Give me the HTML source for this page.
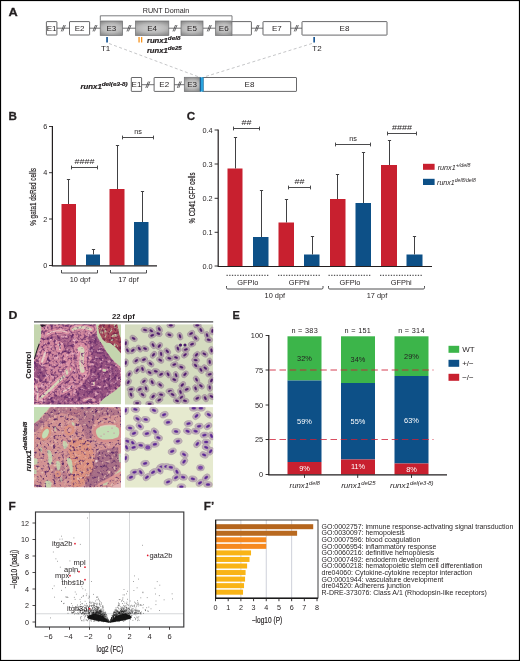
<!DOCTYPE html>
<html><head><meta charset="utf-8"><title>Figure</title>
<style>
html,body{margin:0;padding:0;background:#fff;}
svg{display:block}
text{font-family:"Liberation Sans",sans-serif;fill:#231f20}
.b{font-weight:bold}
.i{font-style:italic}
.bi{font-weight:bold;font-style:italic}
</style></head><body>
<svg width="520" height="661" viewBox="0 0 520 661">
<defs>
<radialGradient id="gbox" cx="50%" cy="50%" r="75%" gradientTransform="translate(0.5 0.5) scale(1 0.75) translate(-0.5 -0.5)">
<stop offset="0" stop-color="#d2d2d2"/><stop offset="0.55" stop-color="#b9b9b9"/><stop offset="1" stop-color="#8a8a8a"/>
</radialGradient>
</defs>
<rect x="0" y="0" width="520" height="661" fill="#fff"/>

<text transform="translate(8.5 16) scale(1.16 1)" font-size="11" class="b" stroke="#231f20" stroke-width="0.25">A</text>
<text transform="translate(8.5 120) scale(1.06 1)" font-size="11" class="b" stroke="#231f20" stroke-width="0.25">B</text>
<text transform="translate(186.8 120) scale(1.06 1)" font-size="11" class="b" stroke="#231f20" stroke-width="0.25">C</text>
<text transform="translate(8.5 319) scale(1.12 1)" font-size="11" class="b" stroke="#231f20" stroke-width="0.25">D</text>
<text transform="translate(232.5 319.4) scale(1.0 1)" font-size="11" class="b" stroke="#231f20" stroke-width="0.25">E</text>
<text transform="translate(8.5 510) scale(1.08 1)" font-size="11" class="b" stroke="#231f20" stroke-width="0.25">F</text>
<text transform="translate(203.8 510) scale(1.06 1)" font-size="11" class="b" stroke="#231f20" stroke-width="0.25">F’</text>
<line x1="57" y1="28.2" x2="302" y2="28.2" stroke="#4d4d4f" stroke-width="0.8"/>
<line x1="61.25" y1="31.4" x2="63.849999999999994" y2="25.0" stroke="#4d4d4f" stroke-width="0.85"/>
<line x1="62.75" y1="31.4" x2="65.35" y2="25.0" stroke="#4d4d4f" stroke-width="0.85"/>
<line x1="92.95" y1="31.4" x2="95.55" y2="25.0" stroke="#4d4d4f" stroke-width="0.85"/>
<line x1="94.45" y1="31.4" x2="97.05" y2="25.0" stroke="#4d4d4f" stroke-width="0.85"/>
<line x1="126.95" y1="31.4" x2="129.55" y2="25.0" stroke="#4d4d4f" stroke-width="0.85"/>
<line x1="128.45" y1="31.4" x2="131.05" y2="25.0" stroke="#4d4d4f" stroke-width="0.85"/>
<line x1="172.95" y1="31.4" x2="175.55" y2="25.0" stroke="#4d4d4f" stroke-width="0.85"/>
<line x1="174.45" y1="31.4" x2="177.05" y2="25.0" stroke="#4d4d4f" stroke-width="0.85"/>
<line x1="207.25" y1="31.4" x2="209.85000000000002" y2="25.0" stroke="#4d4d4f" stroke-width="0.85"/>
<line x1="208.75" y1="31.4" x2="211.35000000000002" y2="25.0" stroke="#4d4d4f" stroke-width="0.85"/>
<line x1="254.95" y1="31.4" x2="257.55" y2="25.0" stroke="#4d4d4f" stroke-width="0.85"/>
<line x1="256.45" y1="31.4" x2="259.05" y2="25.0" stroke="#4d4d4f" stroke-width="0.85"/>
<line x1="294.25" y1="31.4" x2="296.85" y2="25.0" stroke="#4d4d4f" stroke-width="0.85"/>
<line x1="295.75" y1="31.4" x2="298.35" y2="25.0" stroke="#4d4d4f" stroke-width="0.85"/>
<rect x="46.4" y="21.6" width="10.5" height="13.399999999999999" rx="0.5" fill="#fff" stroke="#4d4d4f" stroke-width="0.85"/>
<text x="51.65" y="31.2" font-size="8" text-anchor="middle">E1</text>
<rect x="69.5" y="21.6" width="20.099999999999994" height="13.399999999999999" rx="0.5" fill="#fff" stroke="#4d4d4f" stroke-width="0.85"/>
<text x="79.55" y="31.2" font-size="8" text-anchor="middle">E2</text>
<rect x="100.2" y="21" width="22.39999999999999" height="14.399999999999999" fill="url(#gbox)" stroke="#6d6e70" stroke-width="0.7"/>
<text x="111.4" y="31.099999999999998" font-size="8" text-anchor="middle">E3</text>
<rect x="135.5" y="21" width="33.30000000000001" height="14.399999999999999" fill="url(#gbox)" stroke="#6d6e70" stroke-width="0.7"/>
<text x="152.15" y="31.099999999999998" font-size="8" text-anchor="middle">E4</text>
<rect x="181" y="21" width="22" height="14.399999999999999" fill="url(#gbox)" stroke="#6d6e70" stroke-width="0.7"/>
<text x="192.0" y="31.099999999999998" font-size="8" text-anchor="middle">E5</text>
<rect x="231" y="21.6" width="20.400000000000006" height="13.399999999999999" rx="0.5" fill="#fff" stroke="#4d4d4f" stroke-width="0.85"/>
<rect x="215.5" y="21" width="16.5" height="14.399999999999999" fill="url(#gbox)" stroke="#6d6e70" stroke-width="0.7"/>
<text x="223.75" y="31.099999999999998" font-size="8" text-anchor="middle">E6</text>
<rect x="263" y="21.6" width="27.69999999999999" height="13.399999999999999" rx="0.5" fill="#fff" stroke="#4d4d4f" stroke-width="0.85"/>
<text x="276.85" y="31.2" font-size="8" text-anchor="middle">E7</text>
<rect x="302" y="21.6" width="85" height="13.5" rx="0.5" fill="#fff" stroke="#4d4d4f" stroke-width="0.85"/>
<text x="344.5" y="31.25" font-size="8" text-anchor="middle">E8</text>
<path d="M100.3 20.5V15.8H232V20.5" fill="none" stroke="#6d6e70" stroke-width="0.9"/>
<text x="166" y="12.6" font-size="7.2" text-anchor="middle">RUNT Domain</text>
<rect x="106.2" y="37" width="1.7" height="5.5" fill="#1a5896"/>
<rect x="313.3" y="37" width="1.7" height="5.5" fill="#1a5896"/>
<rect x="138.4" y="37" width="1.3" height="5.5" fill="#f7931e"/>
<rect x="141" y="37" width="1.3" height="5.5" fill="#f7931e"/>
<text x="105.6" y="50.8" font-size="8" text-anchor="middle">T1</text>
<text x="317" y="50.8" font-size="8" text-anchor="middle">T2</text>
<text x="146.9" y="43.3" font-size="6.9" class="bi" textLength="33.5" lengthAdjust="spacingAndGlyphs" stroke="#231f20" stroke-width="0.2">runx1<tspan dy="-3.1" font-size="5.6">del8</tspan></text>
<text x="146.9" y="52.8" font-size="6.9" class="bi" textLength="34.9" lengthAdjust="spacingAndGlyphs" stroke="#231f20" stroke-width="0.2">runx1<tspan dy="-3.1" font-size="5.6">de25</tspan></text>
<line x1="109" y1="43.5" x2="199" y2="77" stroke="#b6b8ba" stroke-width="0.8" stroke-dasharray="3 2.4"/>
<line x1="312" y1="43.5" x2="204" y2="77" stroke="#b6b8ba" stroke-width="0.8" stroke-dasharray="3 2.4"/>
<line x1="141.5" y1="84.7" x2="185" y2="84.7" stroke="#4d4d4f" stroke-width="0.8"/>
<line x1="145.75" y1="87.9" x2="148.35000000000002" y2="81.5" stroke="#4d4d4f" stroke-width="0.85"/>
<line x1="147.25" y1="87.9" x2="149.85000000000002" y2="81.5" stroke="#4d4d4f" stroke-width="0.85"/>
<line x1="177.25" y1="87.9" x2="179.85000000000002" y2="81.5" stroke="#4d4d4f" stroke-width="0.85"/>
<line x1="178.75" y1="87.9" x2="181.35000000000002" y2="81.5" stroke="#4d4d4f" stroke-width="0.85"/>
<rect x="131.3" y="77.5" width="10.299999999999983" height="13.900000000000006" rx="0.5" fill="#fff" stroke="#4d4d4f" stroke-width="0.85"/>
<text x="136.45" y="87.35000000000001" font-size="8" text-anchor="middle">E1</text>
<rect x="154.1" y="77.5" width="20.200000000000017" height="13.900000000000006" rx="0.5" fill="#fff" stroke="#4d4d4f" stroke-width="0.85"/>
<text x="164.2" y="87.35000000000001" font-size="8" text-anchor="middle">E2</text>
<rect x="202" y="77.5" width="94.5" height="13.900000000000006" rx="0.5" fill="#fff" stroke="#4d4d4f" stroke-width="0.85"/>
<text x="249.5" y="87.35000000000001" font-size="8" text-anchor="middle">E8</text>
<rect x="184.3" y="77.3" width="15.699999999999989" height="14.299999999999997" fill="url(#gbox)" stroke="#6d6e70" stroke-width="0.7"/>
<text x="192.15" y="87.35" font-size="8" text-anchor="middle">E3</text>
<rect x="199.9" y="77.3" width="3.7" height="14.3" fill="#29a3de"/>
<rect x="199.9" y="77.3" width="1.0" height="14.3" fill="#1b5a92"/>
<rect x="203.2" y="77.3" width="0.5" height="14.3" fill="#3a6a8c"/>
<text x="80.6" y="89.3" font-size="6.9" class="bi" textLength="47.1" lengthAdjust="spacingAndGlyphs" stroke="#231f20" stroke-width="0.2">runx1<tspan dy="-3.1" font-size="5.6">del(e3-8)</tspan></text>
<rect x="61.5" y="204" width="14.5" height="61.5" fill="#c8202f"/>
<path d="M68.5 204V179.5M66.9 179.5H70.1" fill="none" stroke="#414143" stroke-width="1"/>
<rect x="86" y="254.5" width="14" height="11.0" fill="#0d5087"/>
<path d="M93.5 254.5V249.5M91.9 249.5H95.1" fill="none" stroke="#414143" stroke-width="1"/>
<rect x="109.5" y="189" width="15.0" height="76.5" fill="#c8202f"/>
<path d="M117.5 189V145.5M115.9 145.5H119.1" fill="none" stroke="#414143" stroke-width="1"/>
<rect x="134" y="222" width="14.5" height="43.5" fill="#0d5087"/>
<path d="M142.5 222V191.5M140.9 191.5H144.1" fill="none" stroke="#414143" stroke-width="1"/>
<path d="M52.4 126.1V265.9H157" fill="none" stroke="#231f20" stroke-width="1.2"/>
<line x1="49" y1="126.5" x2="52.5" y2="126.5" stroke="#231f20" stroke-width="0.9"/>
<text x="47.3" y="129.1" font-size="7.3" text-anchor="end">6</text>
<line x1="49" y1="172.7" x2="52.5" y2="172.7" stroke="#231f20" stroke-width="0.9"/>
<text x="47.3" y="175.29999999999998" font-size="7.3" text-anchor="end">4</text>
<line x1="49" y1="219" x2="52.5" y2="219" stroke="#231f20" stroke-width="0.9"/>
<text x="47.3" y="221.6" font-size="7.3" text-anchor="end">2</text>
<line x1="49" y1="265.5" x2="52.5" y2="265.5" stroke="#231f20" stroke-width="0.9"/>
<text x="47.3" y="268.1" font-size="7.3" text-anchor="end">0</text>
<path d="M71.5 167.5H97.5M71.5 165.6V169.4M97.5 165.6V169.4" fill="none" stroke="#414143" stroke-width="0.95"/>
<text x="74.5" y="163.8" font-size="6.6" textLength="20" lengthAdjust="spacingAndGlyphs">####</text>
<path d="M122.5 137.5H153.5M122.5 135.6V139.4M153.5 135.6V139.4" fill="none" stroke="#414143" stroke-width="0.95"/>
<text x="138.0" y="134.2" font-size="7.3" text-anchor="middle">ns</text>
<text transform="translate(35.6 196.9) rotate(-90)" x="-28.9" y="0" font-size="8.8" textLength="57.8" lengthAdjust="spacingAndGlyphs" stroke="#231f20" stroke-width="0.18">% gata1 dsRed cells</text>
<path d="M61.5 270V273H97.5V270" fill="none" stroke="#3a3a3c" stroke-width="0.9"/>
<path d="M110.5 270V273H146.5V270" fill="none" stroke="#3a3a3c" stroke-width="0.9"/>
<text x="80" y="281.6" font-size="7.4" text-anchor="middle">10 dpf</text>
<text x="128.5" y="281.6" font-size="7.4" text-anchor="middle">17 dpf</text>
<rect x="227.5" y="168.5" width="15.0" height="97.5" fill="#c8202f"/>
<path d="M235.5 168.5V137.5M233.9 137.5H237.1" fill="none" stroke="#414143" stroke-width="1"/>
<rect x="253" y="237" width="15.5" height="29" fill="#0d5087"/>
<path d="M261.5 237V190.5M259.9 190.5H263.1" fill="none" stroke="#414143" stroke-width="1"/>
<rect x="278.5" y="222.5" width="15.5" height="43.5" fill="#c8202f"/>
<path d="M286.5 222.5V199.5M284.9 199.5H288.1" fill="none" stroke="#414143" stroke-width="1"/>
<rect x="304" y="254.5" width="15.5" height="11.5" fill="#0d5087"/>
<path d="M312.5 254.5V236.5M310.9 236.5H314.1" fill="none" stroke="#414143" stroke-width="1"/>
<rect x="330" y="199" width="15.5" height="67" fill="#c8202f"/>
<path d="M337.5 199V174.5M335.9 174.5H339.1" fill="none" stroke="#414143" stroke-width="1"/>
<rect x="355.5" y="203" width="15.5" height="63" fill="#0d5087"/>
<path d="M363.5 203V152.5M361.9 152.5H365.1" fill="none" stroke="#414143" stroke-width="1"/>
<rect x="381" y="165" width="16" height="101" fill="#c8202f"/>
<path d="M389.5 165V140.5M387.9 140.5H391.1" fill="none" stroke="#414143" stroke-width="1"/>
<rect x="406.5" y="254.5" width="16.0" height="11.5" fill="#0d5087"/>
<path d="M414.5 254.5V236.5M412.9 236.5H416.1" fill="none" stroke="#414143" stroke-width="1"/>
<path d="M218.2 129.6V266.5H432" fill="none" stroke="#231f20" stroke-width="1.2"/>
<line x1="214.6" y1="130" x2="218" y2="130" stroke="#231f20" stroke-width="0.9"/>
<text x="212.6" y="132.6" font-size="7.3" text-anchor="end">0.4</text>
<line x1="214.6" y1="164" x2="218" y2="164" stroke="#231f20" stroke-width="0.9"/>
<text x="212.6" y="166.6" font-size="7.3" text-anchor="end">0.3</text>
<line x1="214.6" y1="198.3" x2="218" y2="198.3" stroke="#231f20" stroke-width="0.9"/>
<text x="212.6" y="200.9" font-size="7.3" text-anchor="end">0.2</text>
<line x1="214.6" y1="232.3" x2="218" y2="232.3" stroke="#231f20" stroke-width="0.9"/>
<text x="212.6" y="234.9" font-size="7.3" text-anchor="end">0.1</text>
<line x1="214.6" y1="266" x2="218" y2="266" stroke="#231f20" stroke-width="0.9"/>
<text x="212.6" y="268.6" font-size="7.3" text-anchor="end">0.0</text>
<path d="M233.5 128.5H259.5M233.5 126.6V130.4M259.5 126.6V130.4" fill="none" stroke="#414143" stroke-width="0.95"/>
<text x="241.5" y="124.8" font-size="6.6" textLength="10" lengthAdjust="spacingAndGlyphs">##</text>
<path d="M288.5 187.5H310.5M288.5 185.6V189.4M310.5 185.6V189.4" fill="none" stroke="#414143" stroke-width="0.95"/>
<text x="294.5" y="183.8" font-size="6.6" textLength="10" lengthAdjust="spacingAndGlyphs">##</text>
<path d="M335.5 144.5H370.5M335.5 142.6V146.4M370.5 142.6V146.4" fill="none" stroke="#414143" stroke-width="0.95"/>
<text x="353.0" y="141.2" font-size="7.3" text-anchor="middle">ns</text>
<path d="M387.5 133.5H416.5M387.5 131.6V135.4M416.5 131.6V135.4" fill="none" stroke="#414143" stroke-width="0.95"/>
<text x="392.0" y="129.8" font-size="6.6" textLength="20" lengthAdjust="spacingAndGlyphs">####</text>
<text transform="translate(194.9 198) rotate(-90)" x="-25.5" y="0" font-size="8.8" textLength="51" lengthAdjust="spacingAndGlyphs" stroke="#231f20" stroke-width="0.18">% CD41 GFP cells</text>
<line x1="226.5" y1="275.3" x2="269" y2="275.3" stroke="#2e2e30" stroke-width="1" stroke-dasharray="1.3 1.4"/>
<line x1="278" y1="275.3" x2="320" y2="275.3" stroke="#2e2e30" stroke-width="1" stroke-dasharray="1.3 1.4"/>
<line x1="328.5" y1="275.3" x2="371.5" y2="275.3" stroke="#2e2e30" stroke-width="1" stroke-dasharray="1.3 1.4"/>
<line x1="380" y1="275.3" x2="422.5" y2="275.3" stroke="#2e2e30" stroke-width="1" stroke-dasharray="1.3 1.4"/>
<text x="247.8" y="284.7" font-size="7.4" text-anchor="middle">GFPlo</text>
<text x="299.3" y="284.7" font-size="7.4" text-anchor="middle">GFPhi</text>
<text x="350" y="284.7" font-size="7.4" text-anchor="middle">GFPlo</text>
<text x="401.3" y="284.7" font-size="7.4" text-anchor="middle">GFPhi</text>
<path d="M226.5 286V287.8Q226.5 289 227.7 289H321.8Q323 289 323 287.8V286" fill="none" stroke="#3a3a3c" stroke-width="0.9"/>
<path d="M328.5 286V287.8Q328.5 289 329.7 289H423.3Q424.5 289 424.5 287.8V286" fill="none" stroke="#3a3a3c" stroke-width="0.9"/>
<text x="274.8" y="298" font-size="7.4" text-anchor="middle">10 dpf</text>
<text x="377" y="298" font-size="7.4" text-anchor="middle">17 dpf</text>
<rect x="423" y="163.8" width="11.6" height="6" fill="#c8202f"/>
<rect x="423" y="178.8" width="11.6" height="6.2" fill="#0d5087"/>
<text x="437.7" y="169.7" font-size="7.2" class="i" textLength="32.7" lengthAdjust="spacingAndGlyphs">runx1<tspan dy="-3.0" font-size="5.3">+/del8</tspan></text>
<text x="437.1" y="185" font-size="7.2" class="i" textLength="38.7" lengthAdjust="spacingAndGlyphs">runx1<tspan dy="-3.0" font-size="5.3">del8/del8</tspan></text>
<text x="123.4" y="318.8" font-size="7.7" class="b" text-anchor="middle">22 dpf</text>
<line x1="34" y1="321.9" x2="213.2" y2="321.9" stroke="#4d4d4f" stroke-width="1.2"/>
<text transform="translate(30.9 365.2) rotate(-90)" x="-13.5" y="0" font-size="7.9" textLength="27" lengthAdjust="spacingAndGlyphs" class="b" stroke="#231f20" stroke-width="0.2">Control</text>
<text x="-24.85" y="0" font-size="7.2" class="bi" textLength="49.7" lengthAdjust="spacingAndGlyphs" transform="translate(30.8 446.6) rotate(-90)" stroke="#231f20" stroke-width="0.2">runx1<tspan dy="-3.7" font-size="6.1">del8/del8</tspan></text>
<defs>
<filter id="blur04" x="-5%" y="-5%" width="110%" height="110%"><feGaussianBlur stdDeviation="0.7"/></filter>
<filter id="blur03" x="-5%" y="-5%" width="110%" height="110%"><feGaussianBlur stdDeviation="0.35"/></filter>
<filter id="spkD1" x="0" y="0" width="100%" height="100%" color-interpolation-filters="sRGB"><feTurbulence type="fractalNoise" baseFrequency="0.3" numOctaves="2" seed="5" result="n"/><feColorMatrix in="n" type="matrix" values="0 0 0 0 0.392  0 0 0 0 0.165  0 0 0 0 0.408  3.5 0 0 0 -1.7" result="c"/><feComposite in="c" in2="SourceGraphic" operator="in"/></filter>
<filter id="spkD1b" x="0" y="0" width="100%" height="100%" color-interpolation-filters="sRGB"><feTurbulence type="fractalNoise" baseFrequency="0.36" numOctaves="2" seed="15" result="n"/><feColorMatrix in="n" type="matrix" values="0 0 0 0 0.392  0 0 0 0 0.165  0 0 0 0 0.408  3.5 0 0 0 -1.92" result="c"/><feComposite in="c" in2="SourceGraphic" operator="in"/></filter>
<filter id="spkBG1" x="0" y="0" width="100%" height="100%" color-interpolation-filters="sRGB"><feTurbulence type="fractalNoise" baseFrequency="0.3" numOctaves="2" seed="9" result="n"/><feColorMatrix in="n" type="matrix" values="0 0 0 0 0.776  0 0 0 0 0.839  0 0 0 0 0.690  4.5 0 0 0 -2.5" result="c"/><feComposite in="c" in2="SourceGraphic" operator="in"/></filter>
<filter id="spkL1" x="0" y="0" width="100%" height="100%" color-interpolation-filters="sRGB"><feTurbulence type="fractalNoise" baseFrequency="0.28" numOctaves="2" seed="11" result="n"/><feColorMatrix in="n" type="matrix" values="0 0 0 0 0.929  0 0 0 0 0.714  0 0 0 0 0.769  4.0 0 0 0 -2.3" result="c"/><feComposite in="c" in2="SourceGraphic" operator="in"/></filter>
<filter id="spkB1" x="0" y="0" width="100%" height="100%" color-interpolation-filters="sRGB"><feTurbulence type="fractalNoise" baseFrequency="0.35" numOctaves="2" seed="2" result="n"/><feColorMatrix in="n" type="matrix" values="0 0 0 0 0.478  0 0 0 0 0.165  0 0 0 0 0.306  4.5 0 0 0 -2.1" result="c"/><feComposite in="c" in2="SourceGraphic" operator="in"/></filter>
<filter id="spkD3" x="0" y="0" width="100%" height="100%" color-interpolation-filters="sRGB"><feTurbulence type="fractalNoise" baseFrequency="0.36" numOctaves="2" seed="8" result="n"/><feColorMatrix in="n" type="matrix" values="0 0 0 0 0.369  0 0 0 0 0.180  0 0 0 0 0.408  4.0 0 0 0 -2.12" result="c"/><feComposite in="c" in2="SourceGraphic" operator="in"/></filter>
<filter id="spkL3" x="0" y="0" width="100%" height="100%" color-interpolation-filters="sRGB"><feTurbulence type="fractalNoise" baseFrequency="0.3" numOctaves="2" seed="21" result="n"/><feColorMatrix in="n" type="matrix" values="0 0 0 0 0.902  0 0 0 0 0.745  0 0 0 0 0.690  4.0 0 0 0 -2.35" result="c"/><feComposite in="c" in2="SourceGraphic" operator="in"/></filter>
<filter id="spkG3" x="0" y="0" width="100%" height="100%" color-interpolation-filters="sRGB"><feTurbulence type="fractalNoise" baseFrequency="0.18" numOctaves="2" seed="31" result="n"/><feColorMatrix in="n" type="matrix" values="0 0 0 0 0.796  0 0 0 0 0.878  0 0 0 0 0.714  6.0 0 0 0 -3.5" result="c"/><feComposite in="c" in2="SourceGraphic" operator="in"/></filter>
</defs>
<clipPath id="c1"><rect x="0" y="0" width="87" height="80.3"/></clipPath>
<g transform="translate(34 324.2)" clip-path="url(#c1)">
<rect width="87" height="80.3" fill="#c4d5ae"/>
<g filter="url(#blur04)">
<path d="M6.6 0.0 L62.0 0.0 L63.5 14.0 L69.0 21.0 L72.0 27.0 L76.6 33.2 L81.0 38.0 L86.2 42.4 L88.0 51.0 L86.2 62.0 L79.0 68.0 L71.0 73.4 L66.8 77.0 L65.0 81.0 L0.0 81.0 L0.0 35.4 L1.8 31.0 L3.5 26.5 L5.3 19.5 L7.0 13.3 L7.5 5.3Z" fill="#d0879d"/>
<path d="M54 12 L62 10 L70 24 L80 38 L86 46 L86 60 L76 68 L66 78 L46 80 L40 70 L50 58 L56 50 L58 34 Z" fill="#6e2e6c" opacity="0.55"/>
<path d="M0 38 L10 40 L13 50 L8 57 L0 56 Z" fill="#6e2e6c" opacity="0.55"/>
<path d="M12 74 L30 70 L42 72 L44 81 L10 81 Z" fill="#6e2e6c" opacity="0.4"/>
<path d="M14 12 L40 10 L40 20 L34 30 L30 22 L20 14 Z" fill="#6e2e6c" opacity="0.3"/>
<path d="M6.6 0.0 L62.0 0.0 L63.5 14.0 L69.0 21.0 L72.0 27.0 L76.6 33.2 L81.0 38.0 L86.2 42.4 L88.0 51.0 L86.2 62.0 L79.0 68.0 L71.0 73.4 L66.8 77.0 L65.0 81.0 L0.0 81.0 L0.0 35.4 L1.8 31.0 L3.5 26.5 L5.3 19.5 L7.0 13.3 L7.5 5.3Z" fill="#000" filter="url(#spkD1)"/>
<path d="M13 10 Q22 4 33 8" fill="none" stroke="#6e366c" stroke-width="6.8" stroke-linecap="round" stroke-linejoin="round" opacity="0.45" stroke-dasharray="1.2 1.3"/>
<path d="M13 10 Q22 4 33 8" fill="none" stroke="#de93a4" stroke-width="5" stroke-linecap="round" stroke-linejoin="round" opacity="0.92"/>
<path d="M13 10 Q22 4 33 8" fill="none" stroke="#e6d0c8" stroke-width="1.0" stroke-linecap="round" stroke-linejoin="round"/>
<path d="M24.5 20.5 Q27 21 25.8 25" fill="none" stroke="#6e366c" stroke-width="9.3" stroke-linecap="round" stroke-linejoin="round" opacity="0.45" stroke-dasharray="1.2 1.3"/>
<path d="M24.5 20.5 Q27 21 25.8 25" fill="none" stroke="#de93a4" stroke-width="7.5" stroke-linecap="round" stroke-linejoin="round" opacity="0.92"/>
<path d="M24.5 20.5 Q27 21 25.8 25" fill="none" stroke="#e6d0c8" stroke-width="1.8" stroke-linecap="round" stroke-linejoin="round"/>
<path d="M11 28.5 Q10 33 8 37.5" fill="none" stroke="#6e366c" stroke-width="8.8" stroke-linecap="round" stroke-linejoin="round" opacity="0.45" stroke-dasharray="1.2 1.3"/>
<path d="M11 28.5 Q10 33 8 37.5" fill="none" stroke="#de93a4" stroke-width="7" stroke-linecap="round" stroke-linejoin="round" opacity="0.92"/>
<path d="M11 28.5 Q10 33 8 37.5" fill="none" stroke="#e6d0c8" stroke-width="2.0" stroke-linecap="round" stroke-linejoin="round"/>
<path d="M39 5 Q48 1.5 57 5" fill="none" stroke="#6e366c" stroke-width="7.8" stroke-linecap="round" stroke-linejoin="round" opacity="0.45" stroke-dasharray="1.2 1.3"/>
<path d="M39 5 Q48 1.5 57 5" fill="none" stroke="#de93a4" stroke-width="6" stroke-linecap="round" stroke-linejoin="round" opacity="0.92"/>
<path d="M39 5 Q48 1.5 57 5" fill="none" stroke="#d6d6ba" stroke-width="2.8" stroke-linecap="round" stroke-linejoin="round"/>
<path d="M45 24 Q50 21 48.5 32 Q46.5 41 49 47" fill="none" stroke="#6e366c" stroke-width="12.3" stroke-linecap="round" stroke-linejoin="round" opacity="0.45" stroke-dasharray="1.2 1.3"/>
<path d="M45 24 Q50 21 48.5 32 Q46.5 41 49 47" fill="none" stroke="#de93a4" stroke-width="10.5" stroke-linecap="round" stroke-linejoin="round" opacity="0.92"/>
<path d="M45.5 25 Q49.5 22 48 32 Q46.5 41 48.5 46.5" fill="none" stroke="#d6d6ba" stroke-width="4.2" stroke-linecap="round"/>
<path d="M47.5 30 Q47 36 48 42" fill="none" stroke="#e2b8b4" stroke-width="1.8" stroke-linecap="round"/>
<path d="M7 73.4 Q16 66 24 57.5 Q31 52 36 45" fill="none" stroke="#6e366c" stroke-width="8.8" stroke-linecap="round" stroke-linejoin="round" opacity="0.45" stroke-dasharray="1.2 1.3"/>
<path d="M7 73.4 Q16 66 24 57.5 Q31 52 36 45" fill="none" stroke="#de93a4" stroke-width="7" stroke-linecap="round" stroke-linejoin="round" opacity="0.92"/>
<path d="M7 73.4 Q16 66 24 57.5 Q31 52 36 45" fill="none" stroke="#d6d6ba" stroke-width="2.4" stroke-linecap="round" stroke-linejoin="round"/>
<path d="M32.5 46 L33 49.5" fill="none" stroke="#6e366c" stroke-width="7.3" stroke-linecap="round" stroke-linejoin="round" opacity="0.45" stroke-dasharray="1.2 1.3"/>
<path d="M32.5 46 L33 49.5" fill="none" stroke="#de93a4" stroke-width="5.5" stroke-linecap="round" stroke-linejoin="round" opacity="0.92"/>
<path d="M32.5 46 L33 49.5" fill="none" stroke="#d6d6ba" stroke-width="2.4" stroke-linecap="round" stroke-linejoin="round"/>
<path d="M28 68 Q33 66 38 62" fill="none" stroke="#6e366c" stroke-width="6.8" stroke-linecap="round" stroke-linejoin="round" opacity="0.45" stroke-dasharray="1.2 1.3"/>
<path d="M28 68 Q33 66 38 62" fill="none" stroke="#de93a4" stroke-width="5" stroke-linecap="round" stroke-linejoin="round" opacity="0.92"/>
<path d="M28 68 Q33 66 38 62" fill="none" stroke="#e6d0c8" stroke-width="1.2" stroke-linecap="round" stroke-linejoin="round"/>
<path d="M30 30 Q37 36 34 44" fill="none" stroke="#de93a4" stroke-width="4" stroke-linecap="round" stroke-linejoin="round" opacity="0.75"/>
<path d="M2 62 Q5 68 3 76" fill="none" stroke="#de93a4" stroke-width="4" stroke-linecap="round" stroke-linejoin="round" opacity="0.8"/>
<path d="M2 62 Q5 68 3 76" fill="none" stroke="#e6d0c8" stroke-width="1.2" stroke-linecap="round" stroke-linejoin="round"/>
<path d="M69.5 46 L71 46.2" fill="none" stroke="#de93a4" stroke-width="3.2" stroke-linecap="round" stroke-linejoin="round" opacity="0.92"/>
<path d="M69.5 46 L71 46.2" fill="none" stroke="#c4d5ae" stroke-width="2.2" stroke-linecap="round" stroke-linejoin="round"/>
<path d="M59.7 57.5 L59.8 60.5" fill="none" stroke="#de93a4" stroke-width="2.6" stroke-linecap="round" stroke-linejoin="round" opacity="0.92"/>
<path d="M59.7 57.5 L59.8 60.5" fill="none" stroke="#d6d6ba" stroke-width="1.5" stroke-linecap="round" stroke-linejoin="round"/>
<path d="M50 76 Q56 73 60 76" fill="none" stroke="#de93a4" stroke-width="3.6" stroke-linecap="round" stroke-linejoin="round" opacity="0.8"/>
<path d="M50 76 Q56 73 60 76" fill="none" stroke="#e6d0c8" stroke-width="1.0" stroke-linecap="round" stroke-linejoin="round"/>
<path d="M65.6 0.0 L83.3 0.0 L85.5 11.0 L87.0 14.6 L87.0 29.0 L82.0 23.5 L76.6 19.0 L72.2 18.2 L68.7 15.5 L65.0 8.4 L64.2 2.2Z" fill="#a84c5c"/>
<path d="M65.6 0.0 L83.3 0.0 L85.5 11.0 L87.0 14.6 L87.0 29.0 L82.0 23.5 L76.6 19.0 L72.2 18.2 L68.7 15.5 L65.0 8.4 L64.2 2.2Z" fill="#000" filter="url(#spkB1)"/>
<path d="M65.6 0.0 L83.3 0.0 L85.5 11.0 L87.0 14.6 L87.0 29.0 L82.0 23.5 L76.6 19.0 L72.2 18.2 L68.7 15.5 L65.0 8.4 L64.2 2.2Z" fill="#000" filter="url(#spkBG1)"/>
<path d="M6.6 0.0 L62.0 0.0 L63.5 14.0 L69.0 21.0 L72.0 27.0 L76.6 33.2 L81.0 38.0 L86.2 42.4 L88.0 51.0 L86.2 62.0 L79.0 68.0 L71.0 73.4 L66.8 77.0 L65.0 81.0 L0.0 81.0 L0.0 35.4 L1.8 31.0 L3.5 26.5 L5.3 19.5 L7.0 13.3 L7.5 5.3Z" fill="#000" filter="url(#spkL1)"/>
<path d="M6.6 0.0 L62.0 0.0 L63.5 14.0 L69.0 21.0 L72.0 27.0 L76.6 33.2 L81.0 38.0 L86.2 42.4 L88.0 51.0 L86.2 62.0 L79.0 68.0 L71.0 73.4 L66.8 77.0 L65.0 81.0 L0.0 81.0 L0.0 35.4 L1.8 31.0 L3.5 26.5 L5.3 19.5 L7.0 13.3 L7.5 5.3Z" fill="#000" filter="url(#spkD1b)"/>
</g>
<path d="M6 0.4 L13 0.6 L8 3 Z" fill="#2a1a2a"/>
<path d="M5.3 19.5 Q3.5 24 1.8 30 Q0.8 33 0.4 35" fill="none" stroke="#2a1a2a" stroke-width="1.1"/>
</g>
<g filter="url(#blur03)">
<clipPath id="cs2"><rect x="124.8" y="324.2" width="88.4" height="80.5"/></clipPath>
<g clip-path="url(#cs2)">
<rect x="124.8" y="324.2" width="88.4" height="80.5" fill="#d5dcc0"/>
<ellipse cx="133.6" cy="338.4" rx="4.0" ry="2.75" transform="rotate(30 133.6 338.4)" fill="#b3a4a9" stroke="#9f8e9c" stroke-width="0.5"/>
<ellipse cx="133.6" cy="338.4" rx="2.24" ry="1.38" transform="rotate(30 133.6 338.4)" fill="#875a92"/>
<ellipse cx="133.6" cy="338.4" rx="1.80" ry="0.88" transform="rotate(30 133.6 338.4)" fill="#4c1e6a"/>
<ellipse cx="145.1" cy="330.0" rx="4.0" ry="2.75" transform="rotate(10 145.1 330.0)" fill="#b3a4a9" stroke="#9f8e9c" stroke-width="0.5"/>
<ellipse cx="145.1" cy="330.0" rx="2.24" ry="1.38" transform="rotate(10 145.1 330.0)" fill="#875a92"/>
<ellipse cx="145.1" cy="330.0" rx="1.80" ry="0.88" transform="rotate(10 145.1 330.0)" fill="#4c1e6a"/>
<ellipse cx="151.3" cy="330.9" rx="4.0" ry="2.75" transform="rotate(40 151.3 330.9)" fill="#b3a4a9" stroke="#9f8e9c" stroke-width="0.5"/>
<ellipse cx="151.3" cy="330.9" rx="2.24" ry="1.38" transform="rotate(40 151.3 330.9)" fill="#875a92"/>
<ellipse cx="151.3" cy="330.9" rx="1.80" ry="0.88" transform="rotate(40 151.3 330.9)" fill="#4c1e6a"/>
<ellipse cx="152.2" cy="335.3" rx="4.0" ry="2.75" transform="rotate(-20 152.2 335.3)" fill="#b3a4a9" stroke="#9f8e9c" stroke-width="0.5"/>
<ellipse cx="152.2" cy="335.3" rx="2.24" ry="1.38" transform="rotate(-20 152.2 335.3)" fill="#875a92"/>
<ellipse cx="152.2" cy="335.3" rx="1.80" ry="0.88" transform="rotate(-20 152.2 335.3)" fill="#4c1e6a"/>
<ellipse cx="159.3" cy="329.2" rx="4.0" ry="2.75" transform="rotate(60 159.3 329.2)" fill="#b3a4a9" stroke="#9f8e9c" stroke-width="0.5"/>
<ellipse cx="159.3" cy="329.2" rx="2.24" ry="1.38" transform="rotate(60 159.3 329.2)" fill="#875a92"/>
<ellipse cx="159.3" cy="329.2" rx="1.80" ry="0.88" transform="rotate(60 159.3 329.2)" fill="#4c1e6a"/>
<ellipse cx="158.4" cy="333.6" rx="4.0" ry="2.75" transform="rotate(20 158.4 333.6)" fill="#b3a4a9" stroke="#9f8e9c" stroke-width="0.5"/>
<ellipse cx="158.4" cy="333.6" rx="2.24" ry="1.38" transform="rotate(20 158.4 333.6)" fill="#875a92"/>
<ellipse cx="158.4" cy="333.6" rx="1.80" ry="0.88" transform="rotate(20 158.4 333.6)" fill="#4c1e6a"/>
<ellipse cx="169.4" cy="334.8" rx="4.0" ry="2.75" transform="rotate(20 169.4 334.8)" fill="#b3a4a9" stroke="#9f8e9c" stroke-width="0.5"/>
<ellipse cx="169.4" cy="334.8" rx="2.24" ry="1.38" transform="rotate(20 169.4 334.8)" fill="#875a92"/>
<ellipse cx="169.4" cy="334.8" rx="1.80" ry="0.88" transform="rotate(20 169.4 334.8)" fill="#4c1e6a"/>
<ellipse cx="170.8" cy="325.3" rx="4.0" ry="2.75" transform="rotate(0 170.8 325.3)" fill="#b3a4a9" stroke="#9f8e9c" stroke-width="0.5"/>
<ellipse cx="170.8" cy="325.3" rx="2.24" ry="1.38" transform="rotate(0 170.8 325.3)" fill="#875a92"/>
<ellipse cx="170.8" cy="325.3" rx="1.80" ry="0.88" transform="rotate(0 170.8 325.3)" fill="#4c1e6a"/>
<ellipse cx="180.0" cy="336.2" rx="4.0" ry="2.75" transform="rotate(70 180.0 336.2)" fill="#b3a4a9" stroke="#9f8e9c" stroke-width="0.5"/>
<ellipse cx="180.0" cy="336.2" rx="2.24" ry="1.38" transform="rotate(70 180.0 336.2)" fill="#875a92"/>
<ellipse cx="180.0" cy="336.2" rx="1.80" ry="0.88" transform="rotate(70 180.0 336.2)" fill="#4c1e6a"/>
<ellipse cx="191.1" cy="333.6" rx="4.0" ry="2.75" transform="rotate(-30 191.1 333.6)" fill="#b3a4a9" stroke="#9f8e9c" stroke-width="0.5"/>
<ellipse cx="191.1" cy="333.6" rx="2.24" ry="1.38" transform="rotate(-30 191.1 333.6)" fill="#875a92"/>
<ellipse cx="191.1" cy="333.6" rx="1.80" ry="0.88" transform="rotate(-30 191.1 333.6)" fill="#4c1e6a"/>
<ellipse cx="195.6" cy="338.0" rx="4.0" ry="2.75" transform="rotate(45 195.6 338.0)" fill="#b3a4a9" stroke="#9f8e9c" stroke-width="0.5"/>
<ellipse cx="195.6" cy="338.0" rx="2.24" ry="1.38" transform="rotate(45 195.6 338.0)" fill="#875a92"/>
<ellipse cx="195.6" cy="338.0" rx="1.80" ry="0.88" transform="rotate(45 195.6 338.0)" fill="#4c1e6a"/>
<ellipse cx="200.9" cy="330.0" rx="4.0" ry="2.75" transform="rotate(60 200.9 330.0)" fill="#b3a4a9" stroke="#9f8e9c" stroke-width="0.5"/>
<ellipse cx="200.9" cy="330.0" rx="2.24" ry="1.38" transform="rotate(60 200.9 330.0)" fill="#875a92"/>
<ellipse cx="200.9" cy="330.0" rx="1.80" ry="0.88" transform="rotate(60 200.9 330.0)" fill="#4c1e6a"/>
<ellipse cx="207.1" cy="335.3" rx="4.0" ry="2.75" transform="rotate(70 207.1 335.3)" fill="#b3a4a9" stroke="#9f8e9c" stroke-width="0.5"/>
<ellipse cx="207.1" cy="335.3" rx="2.24" ry="1.38" transform="rotate(70 207.1 335.3)" fill="#875a92"/>
<ellipse cx="207.1" cy="335.3" rx="1.80" ry="0.88" transform="rotate(70 207.1 335.3)" fill="#4c1e6a"/>
<ellipse cx="208.8" cy="339.8" rx="4.0" ry="2.75" transform="rotate(10 208.8 339.8)" fill="#b3a4a9" stroke="#9f8e9c" stroke-width="0.5"/>
<ellipse cx="208.8" cy="339.8" rx="2.24" ry="1.38" transform="rotate(10 208.8 339.8)" fill="#875a92"/>
<ellipse cx="208.8" cy="339.8" rx="1.80" ry="0.88" transform="rotate(10 208.8 339.8)" fill="#4c1e6a"/>
<ellipse cx="212.4" cy="330.9" rx="4.0" ry="2.75" transform="rotate(-80 212.4 330.9)" fill="#b3a4a9" stroke="#9f8e9c" stroke-width="0.5"/>
<ellipse cx="212.4" cy="330.9" rx="2.24" ry="1.38" transform="rotate(-80 212.4 330.9)" fill="#875a92"/>
<ellipse cx="212.4" cy="330.9" rx="1.80" ry="0.88" transform="rotate(-80 212.4 330.9)" fill="#4c1e6a"/>
<ellipse cx="197.3" cy="325.3" rx="4.0" ry="2.75" transform="rotate(0 197.3 325.3)" fill="#b3a4a9" stroke="#9f8e9c" stroke-width="0.5"/>
<ellipse cx="197.3" cy="325.3" rx="2.24" ry="1.38" transform="rotate(0 197.3 325.3)" fill="#875a92"/>
<ellipse cx="197.3" cy="325.3" rx="1.80" ry="0.88" transform="rotate(0 197.3 325.3)" fill="#4c1e6a"/>
<ellipse cx="127.5" cy="350.4" rx="4.0" ry="2.75" transform="rotate(60 127.5 350.4)" fill="#b3a4a9" stroke="#9f8e9c" stroke-width="0.5"/>
<ellipse cx="127.5" cy="350.4" rx="2.24" ry="1.38" transform="rotate(60 127.5 350.4)" fill="#875a92"/>
<ellipse cx="127.5" cy="350.4" rx="1.80" ry="0.88" transform="rotate(60 127.5 350.4)" fill="#4c1e6a"/>
<ellipse cx="132.8" cy="350.4" rx="4.0" ry="2.75" transform="rotate(-40 132.8 350.4)" fill="#b3a4a9" stroke="#9f8e9c" stroke-width="0.5"/>
<ellipse cx="132.8" cy="350.4" rx="2.24" ry="1.38" transform="rotate(-40 132.8 350.4)" fill="#875a92"/>
<ellipse cx="132.8" cy="350.4" rx="1.80" ry="0.88" transform="rotate(-40 132.8 350.4)" fill="#4c1e6a"/>
<ellipse cx="139.3" cy="348.6" rx="4.0" ry="2.75" transform="rotate(50 139.3 348.6)" fill="#b3a4a9" stroke="#9f8e9c" stroke-width="0.5"/>
<ellipse cx="139.3" cy="348.6" rx="2.24" ry="1.38" transform="rotate(50 139.3 348.6)" fill="#875a92"/>
<ellipse cx="139.3" cy="348.6" rx="1.80" ry="0.88" transform="rotate(50 139.3 348.6)" fill="#4c1e6a"/>
<ellipse cx="145.1" cy="348.6" rx="4.0" ry="2.75" transform="rotate(20 145.1 348.6)" fill="#b3a4a9" stroke="#9f8e9c" stroke-width="0.5"/>
<ellipse cx="145.1" cy="348.6" rx="2.24" ry="1.38" transform="rotate(20 145.1 348.6)" fill="#875a92"/>
<ellipse cx="145.1" cy="348.6" rx="1.80" ry="0.88" transform="rotate(20 145.1 348.6)" fill="#4c1e6a"/>
<ellipse cx="153.1" cy="345.1" rx="4.0" ry="2.75" transform="rotate(60 153.1 345.1)" fill="#b3a4a9" stroke="#9f8e9c" stroke-width="0.5"/>
<ellipse cx="153.1" cy="345.1" rx="2.24" ry="1.38" transform="rotate(60 153.1 345.1)" fill="#875a92"/>
<ellipse cx="153.1" cy="345.1" rx="1.80" ry="0.88" transform="rotate(60 153.1 345.1)" fill="#4c1e6a"/>
<ellipse cx="159.3" cy="346.0" rx="4.0" ry="2.75" transform="rotate(-50 159.3 346.0)" fill="#b3a4a9" stroke="#9f8e9c" stroke-width="0.5"/>
<ellipse cx="159.3" cy="346.0" rx="2.24" ry="1.38" transform="rotate(-50 159.3 346.0)" fill="#875a92"/>
<ellipse cx="159.3" cy="346.0" rx="1.80" ry="0.88" transform="rotate(-50 159.3 346.0)" fill="#4c1e6a"/>
<ellipse cx="167.3" cy="351.3" rx="4.0" ry="2.75" transform="rotate(45 167.3 351.3)" fill="#b3a4a9" stroke="#9f8e9c" stroke-width="0.5"/>
<ellipse cx="167.3" cy="351.3" rx="2.24" ry="1.38" transform="rotate(45 167.3 351.3)" fill="#875a92"/>
<ellipse cx="167.3" cy="351.3" rx="1.80" ry="0.88" transform="rotate(45 167.3 351.3)" fill="#4c1e6a"/>
<ellipse cx="177.9" cy="348.6" rx="4.0" ry="2.75" transform="rotate(70 177.9 348.6)" fill="#b3a4a9" stroke="#9f8e9c" stroke-width="0.5"/>
<ellipse cx="177.9" cy="348.6" rx="2.24" ry="1.38" transform="rotate(70 177.9 348.6)" fill="#875a92"/>
<ellipse cx="177.9" cy="348.6" rx="1.80" ry="0.88" transform="rotate(70 177.9 348.6)" fill="#4c1e6a"/>
<circle cx="180.5" cy="345.1" r="1.6" fill="#4a1d6a"/>
<circle cx="185.0" cy="345.1" r="1.6" fill="#4a1d6a"/>
<ellipse cx="192.0" cy="344.2" rx="4.0" ry="2.75" transform="rotate(-20 192.0 344.2)" fill="#b3a4a9" stroke="#9f8e9c" stroke-width="0.5"/>
<ellipse cx="192.0" cy="344.2" rx="2.24" ry="1.38" transform="rotate(-20 192.0 344.2)" fill="#875a92"/>
<ellipse cx="192.0" cy="344.2" rx="1.80" ry="0.88" transform="rotate(-20 192.0 344.2)" fill="#4c1e6a"/>
<ellipse cx="185.8" cy="349.5" rx="4.0" ry="2.75" transform="rotate(-10 185.8 349.5)" fill="#b3a4a9" stroke="#9f8e9c" stroke-width="0.5"/>
<ellipse cx="185.8" cy="349.5" rx="2.24" ry="1.38" transform="rotate(-10 185.8 349.5)" fill="#875a92"/>
<ellipse cx="185.8" cy="349.5" rx="1.80" ry="0.88" transform="rotate(-10 185.8 349.5)" fill="#4c1e6a"/>
<ellipse cx="185.0" cy="354.8" rx="4.0" ry="2.75" transform="rotate(-40 185.0 354.8)" fill="#b3a4a9" stroke="#9f8e9c" stroke-width="0.5"/>
<ellipse cx="185.0" cy="354.8" rx="2.24" ry="1.38" transform="rotate(-40 185.0 354.8)" fill="#875a92"/>
<ellipse cx="185.0" cy="354.8" rx="1.80" ry="0.88" transform="rotate(-40 185.0 354.8)" fill="#4c1e6a"/>
<ellipse cx="196.5" cy="354.8" rx="4.0" ry="2.75" transform="rotate(-45 196.5 354.8)" fill="#b3a4a9" stroke="#9f8e9c" stroke-width="0.5"/>
<ellipse cx="196.5" cy="354.8" rx="2.24" ry="1.38" transform="rotate(-45 196.5 354.8)" fill="#875a92"/>
<ellipse cx="196.5" cy="354.8" rx="1.80" ry="0.88" transform="rotate(-45 196.5 354.8)" fill="#4c1e6a"/>
<ellipse cx="204.4" cy="353.9" rx="4.0" ry="2.75" transform="rotate(30 204.4 353.9)" fill="#b3a4a9" stroke="#9f8e9c" stroke-width="0.5"/>
<ellipse cx="204.4" cy="353.9" rx="2.24" ry="1.38" transform="rotate(30 204.4 353.9)" fill="#875a92"/>
<ellipse cx="204.4" cy="353.9" rx="1.80" ry="0.88" transform="rotate(30 204.4 353.9)" fill="#4c1e6a"/>
<ellipse cx="211.5" cy="350.4" rx="4.0" ry="2.75" transform="rotate(80 211.5 350.4)" fill="#b3a4a9" stroke="#9f8e9c" stroke-width="0.5"/>
<ellipse cx="211.5" cy="350.4" rx="2.24" ry="1.38" transform="rotate(80 211.5 350.4)" fill="#875a92"/>
<ellipse cx="211.5" cy="350.4" rx="1.80" ry="0.88" transform="rotate(80 211.5 350.4)" fill="#4c1e6a"/>
<ellipse cx="153.5" cy="354.8" rx="4.0" ry="2.75" transform="rotate(-50 153.5 354.8)" fill="#b3a4a9" stroke="#9f8e9c" stroke-width="0.5"/>
<ellipse cx="153.5" cy="354.8" rx="2.24" ry="1.38" transform="rotate(-50 153.5 354.8)" fill="#875a92"/>
<ellipse cx="153.5" cy="354.8" rx="1.80" ry="0.88" transform="rotate(-50 153.5 354.8)" fill="#4c1e6a"/>
<ellipse cx="161.1" cy="353.9" rx="4.0" ry="2.75" transform="rotate(80 161.1 353.9)" fill="#b3a4a9" stroke="#9f8e9c" stroke-width="0.5"/>
<ellipse cx="161.1" cy="353.9" rx="2.24" ry="1.38" transform="rotate(80 161.1 353.9)" fill="#875a92"/>
<ellipse cx="161.1" cy="353.9" rx="1.80" ry="0.88" transform="rotate(80 161.1 353.9)" fill="#4c1e6a"/>
<ellipse cx="160.2" cy="360.1" rx="4.0" ry="2.75" transform="rotate(30 160.2 360.1)" fill="#b3a4a9" stroke="#9f8e9c" stroke-width="0.5"/>
<ellipse cx="160.2" cy="360.1" rx="2.24" ry="1.38" transform="rotate(30 160.2 360.1)" fill="#875a92"/>
<ellipse cx="160.2" cy="360.1" rx="1.80" ry="0.88" transform="rotate(30 160.2 360.1)" fill="#4c1e6a"/>
<ellipse cx="169.4" cy="358.3" rx="4.0" ry="2.75" transform="rotate(10 169.4 358.3)" fill="#b3a4a9" stroke="#9f8e9c" stroke-width="0.5"/>
<ellipse cx="169.4" cy="358.3" rx="2.24" ry="1.38" transform="rotate(10 169.4 358.3)" fill="#875a92"/>
<ellipse cx="169.4" cy="358.3" rx="1.80" ry="0.88" transform="rotate(10 169.4 358.3)" fill="#4c1e6a"/>
<ellipse cx="176.1" cy="357.5" rx="4.0" ry="2.75" transform="rotate(20 176.1 357.5)" fill="#b3a4a9" stroke="#9f8e9c" stroke-width="0.5"/>
<ellipse cx="176.1" cy="357.5" rx="2.24" ry="1.38" transform="rotate(20 176.1 357.5)" fill="#875a92"/>
<ellipse cx="176.1" cy="357.5" rx="1.80" ry="0.88" transform="rotate(20 176.1 357.5)" fill="#4c1e6a"/>
<ellipse cx="136.3" cy="360.6" rx="4.0" ry="2.75" transform="rotate(-40 136.3 360.6)" fill="#b3a4a9" stroke="#9f8e9c" stroke-width="0.5"/>
<ellipse cx="136.3" cy="360.6" rx="2.24" ry="1.38" transform="rotate(-40 136.3 360.6)" fill="#875a92"/>
<ellipse cx="136.3" cy="360.6" rx="1.80" ry="0.88" transform="rotate(-40 136.3 360.6)" fill="#4c1e6a"/>
<ellipse cx="143.9" cy="359.6" rx="4.0" ry="2.75" transform="rotate(-20 143.9 359.6)" fill="#b3a4a9" stroke="#9f8e9c" stroke-width="0.5"/>
<ellipse cx="143.9" cy="359.6" rx="2.24" ry="1.38" transform="rotate(-20 143.9 359.6)" fill="#875a92"/>
<ellipse cx="143.9" cy="359.6" rx="1.80" ry="0.88" transform="rotate(-20 143.9 359.6)" fill="#4c1e6a"/>
<ellipse cx="150.5" cy="363.7" rx="4.0" ry="2.75" transform="rotate(40 150.5 363.7)" fill="#b3a4a9" stroke="#9f8e9c" stroke-width="0.5"/>
<ellipse cx="150.5" cy="363.7" rx="2.24" ry="1.38" transform="rotate(40 150.5 363.7)" fill="#875a92"/>
<ellipse cx="150.5" cy="363.7" rx="1.80" ry="0.88" transform="rotate(40 150.5 363.7)" fill="#4c1e6a"/>
<ellipse cx="174.3" cy="364.5" rx="4.0" ry="2.75" transform="rotate(-20 174.3 364.5)" fill="#b3a4a9" stroke="#9f8e9c" stroke-width="0.5"/>
<ellipse cx="174.3" cy="364.5" rx="2.24" ry="1.38" transform="rotate(-20 174.3 364.5)" fill="#875a92"/>
<ellipse cx="174.3" cy="364.5" rx="1.80" ry="0.88" transform="rotate(-20 174.3 364.5)" fill="#4c1e6a"/>
<ellipse cx="181.4" cy="367.2" rx="4.0" ry="2.75" transform="rotate(20 181.4 367.2)" fill="#b3a4a9" stroke="#9f8e9c" stroke-width="0.5"/>
<ellipse cx="181.4" cy="367.2" rx="2.24" ry="1.38" transform="rotate(20 181.4 367.2)" fill="#875a92"/>
<ellipse cx="181.4" cy="367.2" rx="1.80" ry="0.88" transform="rotate(20 181.4 367.2)" fill="#4c1e6a"/>
<ellipse cx="195.6" cy="360.1" rx="4.0" ry="2.75" transform="rotate(10 195.6 360.1)" fill="#b3a4a9" stroke="#9f8e9c" stroke-width="0.5"/>
<ellipse cx="195.6" cy="360.1" rx="2.24" ry="1.38" transform="rotate(10 195.6 360.1)" fill="#875a92"/>
<ellipse cx="195.6" cy="360.1" rx="1.80" ry="0.88" transform="rotate(10 195.6 360.1)" fill="#4c1e6a"/>
<ellipse cx="195.6" cy="365.4" rx="4.0" ry="2.75" transform="rotate(45 195.6 365.4)" fill="#b3a4a9" stroke="#9f8e9c" stroke-width="0.5"/>
<ellipse cx="195.6" cy="365.4" rx="2.24" ry="1.38" transform="rotate(45 195.6 365.4)" fill="#875a92"/>
<ellipse cx="195.6" cy="365.4" rx="1.80" ry="0.88" transform="rotate(45 195.6 365.4)" fill="#4c1e6a"/>
<ellipse cx="200.9" cy="369.8" rx="4.0" ry="2.75" transform="rotate(60 200.9 369.8)" fill="#b3a4a9" stroke="#9f8e9c" stroke-width="0.5"/>
<ellipse cx="200.9" cy="369.8" rx="2.24" ry="1.38" transform="rotate(60 200.9 369.8)" fill="#875a92"/>
<ellipse cx="200.9" cy="369.8" rx="1.80" ry="0.88" transform="rotate(60 200.9 369.8)" fill="#4c1e6a"/>
<ellipse cx="205.3" cy="368.1" rx="4.0" ry="2.75" transform="rotate(40 205.3 368.1)" fill="#b3a4a9" stroke="#9f8e9c" stroke-width="0.5"/>
<ellipse cx="205.3" cy="368.1" rx="2.24" ry="1.38" transform="rotate(40 205.3 368.1)" fill="#875a92"/>
<ellipse cx="205.3" cy="368.1" rx="1.80" ry="0.88" transform="rotate(40 205.3 368.1)" fill="#4c1e6a"/>
<ellipse cx="209.7" cy="361.9" rx="4.0" ry="2.75" transform="rotate(80 209.7 361.9)" fill="#b3a4a9" stroke="#9f8e9c" stroke-width="0.5"/>
<ellipse cx="209.7" cy="361.9" rx="2.24" ry="1.38" transform="rotate(80 209.7 361.9)" fill="#875a92"/>
<ellipse cx="209.7" cy="361.9" rx="1.80" ry="0.88" transform="rotate(80 209.7 361.9)" fill="#4c1e6a"/>
<ellipse cx="209.7" cy="374.3" rx="4.0" ry="2.75" transform="rotate(-10 209.7 374.3)" fill="#b3a4a9" stroke="#9f8e9c" stroke-width="0.5"/>
<ellipse cx="209.7" cy="374.3" rx="2.24" ry="1.38" transform="rotate(-10 209.7 374.3)" fill="#875a92"/>
<ellipse cx="209.7" cy="374.3" rx="1.80" ry="0.88" transform="rotate(-10 209.7 374.3)" fill="#4c1e6a"/>
<ellipse cx="137.2" cy="370.2" rx="4.0" ry="2.75" transform="rotate(-50 137.2 370.2)" fill="#b3a4a9" stroke="#9f8e9c" stroke-width="0.5"/>
<ellipse cx="137.2" cy="370.2" rx="2.24" ry="1.38" transform="rotate(-50 137.2 370.2)" fill="#875a92"/>
<ellipse cx="137.2" cy="370.2" rx="1.80" ry="0.88" transform="rotate(-50 137.2 370.2)" fill="#4c1e6a"/>
<ellipse cx="142.5" cy="369.0" rx="4.0" ry="2.75" transform="rotate(70 142.5 369.0)" fill="#b3a4a9" stroke="#9f8e9c" stroke-width="0.5"/>
<ellipse cx="142.5" cy="369.0" rx="2.24" ry="1.38" transform="rotate(70 142.5 369.0)" fill="#875a92"/>
<ellipse cx="142.5" cy="369.0" rx="1.80" ry="0.88" transform="rotate(70 142.5 369.0)" fill="#4c1e6a"/>
<ellipse cx="129.2" cy="374.3" rx="4.0" ry="2.75" transform="rotate(-60 129.2 374.3)" fill="#b3a4a9" stroke="#9f8e9c" stroke-width="0.5"/>
<ellipse cx="129.2" cy="374.3" rx="2.24" ry="1.38" transform="rotate(-60 129.2 374.3)" fill="#875a92"/>
<ellipse cx="129.2" cy="374.3" rx="1.80" ry="0.88" transform="rotate(-60 129.2 374.3)" fill="#4c1e6a"/>
<ellipse cx="149.6" cy="372.5" rx="4.0" ry="2.75" transform="rotate(30 149.6 372.5)" fill="#b3a4a9" stroke="#9f8e9c" stroke-width="0.5"/>
<ellipse cx="149.6" cy="372.5" rx="2.24" ry="1.38" transform="rotate(30 149.6 372.5)" fill="#875a92"/>
<ellipse cx="149.6" cy="372.5" rx="1.80" ry="0.88" transform="rotate(30 149.6 372.5)" fill="#4c1e6a"/>
<ellipse cx="155.8" cy="371.3" rx="4.0" ry="2.75" transform="rotate(10 155.8 371.3)" fill="#b3a4a9" stroke="#9f8e9c" stroke-width="0.5"/>
<ellipse cx="155.8" cy="371.3" rx="2.24" ry="1.38" transform="rotate(10 155.8 371.3)" fill="#875a92"/>
<ellipse cx="155.8" cy="371.3" rx="1.80" ry="0.88" transform="rotate(10 155.8 371.3)" fill="#4c1e6a"/>
<ellipse cx="161.1" cy="374.3" rx="4.0" ry="2.75" transform="rotate(-30 161.1 374.3)" fill="#b3a4a9" stroke="#9f8e9c" stroke-width="0.5"/>
<ellipse cx="161.1" cy="374.3" rx="2.24" ry="1.38" transform="rotate(-30 161.1 374.3)" fill="#875a92"/>
<ellipse cx="161.1" cy="374.3" rx="1.80" ry="0.88" transform="rotate(-30 161.1 374.3)" fill="#4c1e6a"/>
<ellipse cx="168.1" cy="374.3" rx="4.0" ry="2.75" transform="rotate(60 168.1 374.3)" fill="#b3a4a9" stroke="#9f8e9c" stroke-width="0.5"/>
<ellipse cx="168.1" cy="374.3" rx="2.24" ry="1.38" transform="rotate(60 168.1 374.3)" fill="#875a92"/>
<ellipse cx="168.1" cy="374.3" rx="1.80" ry="0.88" transform="rotate(60 168.1 374.3)" fill="#4c1e6a"/>
<ellipse cx="176.1" cy="375.2" rx="4.0" ry="2.75" transform="rotate(70 176.1 375.2)" fill="#b3a4a9" stroke="#9f8e9c" stroke-width="0.5"/>
<ellipse cx="176.1" cy="375.2" rx="2.24" ry="1.38" transform="rotate(70 176.1 375.2)" fill="#875a92"/>
<ellipse cx="176.1" cy="375.2" rx="1.80" ry="0.88" transform="rotate(70 176.1 375.2)" fill="#4c1e6a"/>
<ellipse cx="185.0" cy="374.3" rx="4.0" ry="2.75" transform="rotate(-45 185.0 374.3)" fill="#b3a4a9" stroke="#9f8e9c" stroke-width="0.5"/>
<ellipse cx="185.0" cy="374.3" rx="2.24" ry="1.38" transform="rotate(-45 185.0 374.3)" fill="#875a92"/>
<ellipse cx="185.0" cy="374.3" rx="1.80" ry="0.88" transform="rotate(-45 185.0 374.3)" fill="#4c1e6a"/>
<ellipse cx="174.3" cy="379.6" rx="4.0" ry="2.75" transform="rotate(20 174.3 379.6)" fill="#b3a4a9" stroke="#9f8e9c" stroke-width="0.5"/>
<ellipse cx="174.3" cy="379.6" rx="2.24" ry="1.38" transform="rotate(20 174.3 379.6)" fill="#875a92"/>
<ellipse cx="174.3" cy="379.6" rx="1.80" ry="0.88" transform="rotate(20 174.3 379.6)" fill="#4c1e6a"/>
<ellipse cx="196.5" cy="379.6" rx="4.0" ry="2.75" transform="rotate(60 196.5 379.6)" fill="#b3a4a9" stroke="#9f8e9c" stroke-width="0.5"/>
<ellipse cx="196.5" cy="379.6" rx="2.24" ry="1.38" transform="rotate(60 196.5 379.6)" fill="#875a92"/>
<ellipse cx="196.5" cy="379.6" rx="1.80" ry="0.88" transform="rotate(60 196.5 379.6)" fill="#4c1e6a"/>
<ellipse cx="200.9" cy="385.8" rx="4.0" ry="2.75" transform="rotate(40 200.9 385.8)" fill="#b3a4a9" stroke="#9f8e9c" stroke-width="0.5"/>
<ellipse cx="200.9" cy="385.8" rx="2.24" ry="1.38" transform="rotate(40 200.9 385.8)" fill="#875a92"/>
<ellipse cx="200.9" cy="385.8" rx="1.80" ry="0.88" transform="rotate(40 200.9 385.8)" fill="#4c1e6a"/>
<ellipse cx="195.6" cy="388.4" rx="4.0" ry="2.75" transform="rotate(70 195.6 388.4)" fill="#b3a4a9" stroke="#9f8e9c" stroke-width="0.5"/>
<ellipse cx="195.6" cy="388.4" rx="2.24" ry="1.38" transform="rotate(70 195.6 388.4)" fill="#875a92"/>
<ellipse cx="195.6" cy="388.4" rx="1.80" ry="0.88" transform="rotate(70 195.6 388.4)" fill="#4c1e6a"/>
<ellipse cx="128.3" cy="382.2" rx="4.0" ry="2.75" transform="rotate(-60 128.3 382.2)" fill="#b3a4a9" stroke="#9f8e9c" stroke-width="0.5"/>
<ellipse cx="128.3" cy="382.2" rx="2.24" ry="1.38" transform="rotate(-60 128.3 382.2)" fill="#875a92"/>
<ellipse cx="128.3" cy="382.2" rx="1.80" ry="0.88" transform="rotate(-60 128.3 382.2)" fill="#4c1e6a"/>
<ellipse cx="143.9" cy="381.3" rx="4.0" ry="2.75" transform="rotate(-40 143.9 381.3)" fill="#b3a4a9" stroke="#9f8e9c" stroke-width="0.5"/>
<ellipse cx="143.9" cy="381.3" rx="2.24" ry="1.38" transform="rotate(-40 143.9 381.3)" fill="#875a92"/>
<ellipse cx="143.9" cy="381.3" rx="1.80" ry="0.88" transform="rotate(-40 143.9 381.3)" fill="#4c1e6a"/>
<ellipse cx="152.2" cy="382.2" rx="4.0" ry="2.75" transform="rotate(60 152.2 382.2)" fill="#b3a4a9" stroke="#9f8e9c" stroke-width="0.5"/>
<ellipse cx="152.2" cy="382.2" rx="2.24" ry="1.38" transform="rotate(60 152.2 382.2)" fill="#875a92"/>
<ellipse cx="152.2" cy="382.2" rx="1.80" ry="0.88" transform="rotate(60 152.2 382.2)" fill="#4c1e6a"/>
<ellipse cx="160.2" cy="384.9" rx="4.0" ry="2.75" transform="rotate(40 160.2 384.9)" fill="#b3a4a9" stroke="#9f8e9c" stroke-width="0.5"/>
<ellipse cx="160.2" cy="384.9" rx="2.24" ry="1.38" transform="rotate(40 160.2 384.9)" fill="#875a92"/>
<ellipse cx="160.2" cy="384.9" rx="1.80" ry="0.88" transform="rotate(40 160.2 384.9)" fill="#4c1e6a"/>
<ellipse cx="182.3" cy="384.9" rx="4.0" ry="2.75" transform="rotate(-45 182.3 384.9)" fill="#b3a4a9" stroke="#9f8e9c" stroke-width="0.5"/>
<ellipse cx="182.3" cy="384.9" rx="2.24" ry="1.38" transform="rotate(-45 182.3 384.9)" fill="#875a92"/>
<ellipse cx="182.3" cy="384.9" rx="1.80" ry="0.88" transform="rotate(-45 182.3 384.9)" fill="#4c1e6a"/>
<ellipse cx="186.7" cy="389.3" rx="4.0" ry="2.75" transform="rotate(-20 186.7 389.3)" fill="#b3a4a9" stroke="#9f8e9c" stroke-width="0.5"/>
<ellipse cx="186.7" cy="389.3" rx="2.24" ry="1.38" transform="rotate(-20 186.7 389.3)" fill="#875a92"/>
<ellipse cx="186.7" cy="389.3" rx="1.80" ry="0.88" transform="rotate(-20 186.7 389.3)" fill="#4c1e6a"/>
<ellipse cx="131.0" cy="389.3" rx="4.0" ry="2.75" transform="rotate(-10 131.0 389.3)" fill="#b3a4a9" stroke="#9f8e9c" stroke-width="0.5"/>
<ellipse cx="131.0" cy="389.3" rx="2.24" ry="1.38" transform="rotate(-10 131.0 389.3)" fill="#875a92"/>
<ellipse cx="131.0" cy="389.3" rx="1.80" ry="0.88" transform="rotate(-10 131.0 389.3)" fill="#4c1e6a"/>
<ellipse cx="139.8" cy="389.3" rx="4.0" ry="2.75" transform="rotate(-30 139.8 389.3)" fill="#b3a4a9" stroke="#9f8e9c" stroke-width="0.5"/>
<ellipse cx="139.8" cy="389.3" rx="2.24" ry="1.38" transform="rotate(-30 139.8 389.3)" fill="#875a92"/>
<ellipse cx="139.8" cy="389.3" rx="1.80" ry="0.88" transform="rotate(-30 139.8 389.3)" fill="#4c1e6a"/>
<ellipse cx="146.0" cy="388.4" rx="4.0" ry="2.75" transform="rotate(70 146.0 388.4)" fill="#b3a4a9" stroke="#9f8e9c" stroke-width="0.5"/>
<ellipse cx="146.0" cy="388.4" rx="2.24" ry="1.38" transform="rotate(70 146.0 388.4)" fill="#875a92"/>
<ellipse cx="146.0" cy="388.4" rx="1.80" ry="0.88" transform="rotate(70 146.0 388.4)" fill="#4c1e6a"/>
<ellipse cx="131.0" cy="394.6" rx="4.0" ry="2.75" transform="rotate(70 131.0 394.6)" fill="#b3a4a9" stroke="#9f8e9c" stroke-width="0.5"/>
<ellipse cx="131.0" cy="394.6" rx="2.24" ry="1.38" transform="rotate(70 131.0 394.6)" fill="#875a92"/>
<ellipse cx="131.0" cy="394.6" rx="1.80" ry="0.88" transform="rotate(70 131.0 394.6)" fill="#4c1e6a"/>
<ellipse cx="142.5" cy="394.6" rx="4.0" ry="2.75" transform="rotate(40 142.5 394.6)" fill="#b3a4a9" stroke="#9f8e9c" stroke-width="0.5"/>
<ellipse cx="142.5" cy="394.6" rx="2.24" ry="1.38" transform="rotate(40 142.5 394.6)" fill="#875a92"/>
<ellipse cx="142.5" cy="394.6" rx="1.80" ry="0.88" transform="rotate(40 142.5 394.6)" fill="#4c1e6a"/>
<ellipse cx="169.9" cy="391.1" rx="4.0" ry="2.75" transform="rotate(-10 169.9 391.1)" fill="#b3a4a9" stroke="#9f8e9c" stroke-width="0.5"/>
<ellipse cx="169.9" cy="391.1" rx="2.24" ry="1.38" transform="rotate(-10 169.9 391.1)" fill="#875a92"/>
<ellipse cx="169.9" cy="391.1" rx="1.80" ry="0.88" transform="rotate(-10 169.9 391.1)" fill="#4c1e6a"/>
<ellipse cx="172.6" cy="394.6" rx="4.0" ry="2.75" transform="rotate(30 172.6 394.6)" fill="#b3a4a9" stroke="#9f8e9c" stroke-width="0.5"/>
<ellipse cx="172.6" cy="394.6" rx="2.24" ry="1.38" transform="rotate(30 172.6 394.6)" fill="#875a92"/>
<ellipse cx="172.6" cy="394.6" rx="1.80" ry="0.88" transform="rotate(30 172.6 394.6)" fill="#4c1e6a"/>
<ellipse cx="180.5" cy="392.0" rx="4.0" ry="2.75" transform="rotate(70 180.5 392.0)" fill="#b3a4a9" stroke="#9f8e9c" stroke-width="0.5"/>
<ellipse cx="180.5" cy="392.0" rx="2.24" ry="1.38" transform="rotate(70 180.5 392.0)" fill="#875a92"/>
<ellipse cx="180.5" cy="392.0" rx="1.80" ry="0.88" transform="rotate(70 180.5 392.0)" fill="#4c1e6a"/>
<ellipse cx="181.4" cy="397.3" rx="4.0" ry="2.75" transform="rotate(-40 181.4 397.3)" fill="#b3a4a9" stroke="#9f8e9c" stroke-width="0.5"/>
<ellipse cx="181.4" cy="397.3" rx="2.24" ry="1.38" transform="rotate(-40 181.4 397.3)" fill="#875a92"/>
<ellipse cx="181.4" cy="397.3" rx="1.80" ry="0.88" transform="rotate(-40 181.4 397.3)" fill="#4c1e6a"/>
<ellipse cx="153.1" cy="396.4" rx="4.0" ry="2.75" transform="rotate(-45 153.1 396.4)" fill="#b3a4a9" stroke="#9f8e9c" stroke-width="0.5"/>
<ellipse cx="153.1" cy="396.4" rx="2.24" ry="1.38" transform="rotate(-45 153.1 396.4)" fill="#875a92"/>
<ellipse cx="153.1" cy="396.4" rx="1.80" ry="0.88" transform="rotate(-45 153.1 396.4)" fill="#4c1e6a"/>
<ellipse cx="161.1" cy="394.6" rx="4.0" ry="2.75" transform="rotate(10 161.1 394.6)" fill="#b3a4a9" stroke="#9f8e9c" stroke-width="0.5"/>
<ellipse cx="161.1" cy="394.6" rx="2.24" ry="1.38" transform="rotate(10 161.1 394.6)" fill="#875a92"/>
<ellipse cx="161.1" cy="394.6" rx="1.80" ry="0.88" transform="rotate(10 161.1 394.6)" fill="#4c1e6a"/>
<ellipse cx="159.3" cy="399.9" rx="4.0" ry="2.75" transform="rotate(-30 159.3 399.9)" fill="#b3a4a9" stroke="#9f8e9c" stroke-width="0.5"/>
<ellipse cx="159.3" cy="399.9" rx="2.24" ry="1.38" transform="rotate(-30 159.3 399.9)" fill="#875a92"/>
<ellipse cx="159.3" cy="399.9" rx="1.80" ry="0.88" transform="rotate(-30 159.3 399.9)" fill="#4c1e6a"/>
<ellipse cx="185.0" cy="400.8" rx="4.0" ry="2.75" transform="rotate(10 185.0 400.8)" fill="#b3a4a9" stroke="#9f8e9c" stroke-width="0.5"/>
<ellipse cx="185.0" cy="400.8" rx="2.24" ry="1.38" transform="rotate(10 185.0 400.8)" fill="#875a92"/>
<ellipse cx="185.0" cy="400.8" rx="1.80" ry="0.88" transform="rotate(10 185.0 400.8)" fill="#4c1e6a"/>
<ellipse cx="177.0" cy="400.8" rx="4.0" ry="2.75" transform="rotate(20 177.0 400.8)" fill="#b3a4a9" stroke="#9f8e9c" stroke-width="0.5"/>
<ellipse cx="177.0" cy="400.8" rx="2.24" ry="1.38" transform="rotate(20 177.0 400.8)" fill="#875a92"/>
<ellipse cx="177.0" cy="400.8" rx="1.80" ry="0.88" transform="rotate(20 177.0 400.8)" fill="#4c1e6a"/>
<ellipse cx="197.3" cy="398.2" rx="4.0" ry="2.75" transform="rotate(-30 197.3 398.2)" fill="#b3a4a9" stroke="#9f8e9c" stroke-width="0.5"/>
<ellipse cx="197.3" cy="398.2" rx="2.24" ry="1.38" transform="rotate(-30 197.3 398.2)" fill="#875a92"/>
<ellipse cx="197.3" cy="398.2" rx="1.80" ry="0.88" transform="rotate(-30 197.3 398.2)" fill="#4c1e6a"/>
<ellipse cx="205.3" cy="398.2" rx="4.0" ry="2.75" transform="rotate(60 205.3 398.2)" fill="#b3a4a9" stroke="#9f8e9c" stroke-width="0.5"/>
<ellipse cx="205.3" cy="398.2" rx="2.24" ry="1.38" transform="rotate(60 205.3 398.2)" fill="#875a92"/>
<ellipse cx="205.3" cy="398.2" rx="1.80" ry="0.88" transform="rotate(60 205.3 398.2)" fill="#4c1e6a"/>
<ellipse cx="209.7" cy="387.5" rx="4.0" ry="2.75" transform="rotate(80 209.7 387.5)" fill="#b3a4a9" stroke="#9f8e9c" stroke-width="0.5"/>
<ellipse cx="209.7" cy="387.5" rx="2.24" ry="1.38" transform="rotate(80 209.7 387.5)" fill="#875a92"/>
<ellipse cx="209.7" cy="387.5" rx="1.80" ry="0.88" transform="rotate(80 209.7 387.5)" fill="#4c1e6a"/>
<ellipse cx="211.5" cy="396.4" rx="4.0" ry="2.75" transform="rotate(30 211.5 396.4)" fill="#b3a4a9" stroke="#9f8e9c" stroke-width="0.5"/>
<ellipse cx="211.5" cy="396.4" rx="2.24" ry="1.38" transform="rotate(30 211.5 396.4)" fill="#875a92"/>
<ellipse cx="211.5" cy="396.4" rx="1.80" ry="0.88" transform="rotate(30 211.5 396.4)" fill="#4c1e6a"/>
<ellipse cx="137.2" cy="403.1" rx="4.0" ry="2.75" transform="rotate(0 137.2 403.1)" fill="#b3a4a9" stroke="#9f8e9c" stroke-width="0.5"/>
<ellipse cx="137.2" cy="403.1" rx="2.24" ry="1.38" transform="rotate(0 137.2 403.1)" fill="#875a92"/>
<ellipse cx="137.2" cy="403.1" rx="1.80" ry="0.88" transform="rotate(0 137.2 403.1)" fill="#4c1e6a"/>
<ellipse cx="149.6" cy="403.8" rx="4.0" ry="2.75" transform="rotate(0 149.6 403.8)" fill="#b3a4a9" stroke="#9f8e9c" stroke-width="0.5"/>
<ellipse cx="149.6" cy="403.8" rx="2.24" ry="1.38" transform="rotate(0 149.6 403.8)" fill="#875a92"/>
<ellipse cx="149.6" cy="403.8" rx="1.80" ry="0.88" transform="rotate(0 149.6 403.8)" fill="#4c1e6a"/>
<ellipse cx="125.7" cy="343.3" rx="4.0" ry="2.75" transform="rotate(-80 125.7 343.3)" fill="#b3a4a9" stroke="#9f8e9c" stroke-width="0.5"/>
<ellipse cx="125.7" cy="343.3" rx="2.24" ry="1.38" transform="rotate(-80 125.7 343.3)" fill="#875a92"/>
<ellipse cx="125.7" cy="343.3" rx="1.80" ry="0.88" transform="rotate(-80 125.7 343.3)" fill="#4c1e6a"/>
<ellipse cx="125.7" cy="362.8" rx="4.0" ry="2.75" transform="rotate(-80 125.7 362.8)" fill="#b3a4a9" stroke="#9f8e9c" stroke-width="0.5"/>
<ellipse cx="125.7" cy="362.8" rx="2.24" ry="1.38" transform="rotate(-80 125.7 362.8)" fill="#875a92"/>
<ellipse cx="125.7" cy="362.8" rx="1.80" ry="0.88" transform="rotate(-80 125.7 362.8)" fill="#4c1e6a"/>
<ellipse cx="211.5" cy="380.5" rx="4.0" ry="2.75" transform="rotate(-60 211.5 380.5)" fill="#b3a4a9" stroke="#9f8e9c" stroke-width="0.5"/>
<ellipse cx="211.5" cy="380.5" rx="2.24" ry="1.38" transform="rotate(-60 211.5 380.5)" fill="#875a92"/>
<ellipse cx="211.5" cy="380.5" rx="1.80" ry="0.88" transform="rotate(-60 211.5 380.5)" fill="#4c1e6a"/>
</g>
</g>
<clipPath id="c3"><rect x="0" y="0" width="87" height="80.4"/></clipPath>
<g transform="translate(34 407.1)" clip-path="url(#c3)">
<rect width="87" height="80.4" fill="#d29393"/>
<g filter="url(#blur04)">
<path d="M36 34 Q46 28 56 36 Q62 48 60 62 Q56 74 46 80 L38 80 Q36 68 38 56 Q32 44 36 34Z" fill="#dc9280"/>
<path d="M33 4 Q40 2 48 4 L47 8 Q40 9 34 8Z" fill="#da9490"/>
<path d="M0 17 L6 12.6 L9.5 8.6 L14 4 L17 0 L70 0 L87 3 L87 8 L70 9 L62 12 L58 20 L58 32 L52 32 L48 20 L42 10 L28 6 L18 9 L10 16 L3 24 L0 26Z" fill="#6a3470" opacity="0.3"/>
<path d="M62 44 L84 40 L86 60 L78 70 L64 78 L52 81 L50 72 L58 64 Z" fill="#6a3470" opacity="0.4"/>
<path d="M20 60 L30 58 L34 70 L26 76 L18 70Z" fill="#6a3470" opacity="0.22"/>
<rect width="87" height="80.4" fill="#000" filter="url(#spkD3)"/>
<rect width="87" height="80.4" fill="#000" filter="url(#spkL3)"/>
<path d="M0 0 L16 0 L13.3 3.5 L8.8 8 L5.3 12.4 L0 16.4 Z" fill="#c4deb4"/>
<ellipse cx="11.5" cy="26.5" rx="5.2" ry="7.4" transform="rotate(28 11.5 26.5)" fill="#dc9280" opacity="0.9"/>
<ellipse cx="11.5" cy="26.5" rx="2.8" ry="5.2" transform="rotate(28 11.5 26.5)" fill="#c4deb4"/>
<circle cx="35.4" cy="23" r="4" fill="none" stroke="#dc9280" stroke-width="2.4"/>
<circle cx="35.4" cy="23" r="1.6" fill="#e0a0a0"/>
<path d="M60.5 24 Q61 18.5 70 17.5 Q80 16 85.5 20 Q88 26 85 31 Q78 34.5 68 33.5 Q61 32 60.5 24Z" fill="#c4deb4" stroke="#d48c8c" stroke-width="2.6"/>
<path d="M66 20 Q74 17 82 19" fill="none" stroke="#dcd8c4" stroke-width="1.6" opacity="0.8"/>
<path d="M70 27h.1M74 24.5h.1M67 29h.1M78 21h.1M80 26h.1" stroke="#c890a4" stroke-width="1.3" stroke-linecap="round"/>
<path d="M37.5 15 Q41 15 40.5 18.5 Q38 19.5 37.5 15Z" fill="#c4deb4" opacity="0.82"/>
<path d="M29 34 Q33 33 33.5 38 Q33 42 30 42 Q28 38 29 34Z" fill="#c4deb4" opacity="0.82"/>
<path d="M20.5 20 L22 20 L22 24 L20.5 24Z" fill="#c4deb4" opacity="0.57"/>
<path d="M0 51 L3.5 52 L3.5 57 L0 58Z" fill="#c4deb4" opacity="0.82"/>
<path d="M0 62 L2.6 63 L2.6 67 L0 67Z" fill="#c4deb4" opacity="0.82"/>
<path d="M13.5 43 Q17 42 18 48 Q19 54 16.5 58 Q13 56 14.5 50 Q13 47 13.5 43Z" fill="#c4deb4" opacity="0.82"/>
<path d="M22.5 54 Q26 53 26.5 58 Q26.5 63 24 63.7 Q21.5 60 22.5 54Z" fill="#c4deb4" opacity="0.82"/>
<path d="M33 51 Q37 50 38 55 Q39.5 62 38 67 Q35.5 66 35.5 60 Q32.5 56 33 51Z" fill="#c4deb4" opacity="0.82"/>
<path d="M11.5 74 Q16 72 17.7 76 L17 81 L12 81Z" fill="#c4deb4" opacity="0.82"/>
<path d="M84.5 47 L88 46 L88 56 L85 55Z" fill="#c4deb4" opacity="0.82"/>
<path d="M80.5 67.5 L88 60.5 L88 63.5 L82 69Z" fill="#c4deb4" opacity="0.82"/>
<path d="M68.5 76 L74 75 L73 78 L69 78.5Z" fill="#c4deb4" opacity="0.74"/>
<path d="M85 0 L88 0 L88 3.5Z" fill="#c4deb4" opacity="0.57"/>
<path d="M6 40 Q9 40 8 45 Q6 46 6 40Z" fill="#c4deb4" opacity="0.57"/>
<path d="M26 70 Q29 70 28 75 Q26 75 26 70Z" fill="#c4deb4" opacity="0.49"/>
<path d="M64 78 Q76 72 88 65" fill="none" stroke="#dc9896" stroke-width="2.6"/>
<path d="M76 81 Q82 77 88 75 L88 81Z" fill="#e2b0b0"/>
<circle cx="24" cy="67" r="2.2" fill="none" stroke="#dc9280" stroke-width="1.6"/>
<circle cx="62.4" cy="54" r="1.3" fill="#e8d0d0"/>
</g>
</g>
<g filter="url(#blur03)">
<clipPath id="cs4"><rect x="124.8" y="407.1" width="88.4" height="80.6"/></clipPath>
<g clip-path="url(#cs4)">
<rect x="124.8" y="407.1" width="88.4" height="80.6" fill="#e6eacf"/>
<ellipse cx="125.7" cy="410.3" rx="4.3" ry="3.05" transform="rotate(-80 125.7 410.3)" fill="#bfb0b6" stroke="#a896a6" stroke-width="0.5"/>
<ellipse cx="125.7" cy="410.3" rx="2.41" ry="1.52" transform="rotate(-80 125.7 410.3)" fill="#9466ae"/>
<ellipse cx="125.7" cy="410.3" rx="1.94" ry="0.98" transform="rotate(-80 125.7 410.3)" fill="#5a2a92"/>
<ellipse cx="135.4" cy="409.4" rx="4.3" ry="3.05" transform="rotate(10 135.4 409.4)" fill="#bfb0b6" stroke="#a896a6" stroke-width="0.5"/>
<ellipse cx="135.4" cy="409.4" rx="2.41" ry="1.52" transform="rotate(10 135.4 409.4)" fill="#9466ae"/>
<ellipse cx="135.4" cy="409.4" rx="1.94" ry="0.98" transform="rotate(10 135.4 409.4)" fill="#5a2a92"/>
<ellipse cx="154.0" cy="410.3" rx="4.3" ry="3.05" transform="rotate(20 154.0 410.3)" fill="#bfb0b6" stroke="#a896a6" stroke-width="0.5"/>
<ellipse cx="154.0" cy="410.3" rx="2.41" ry="1.52" transform="rotate(20 154.0 410.3)" fill="#9466ae"/>
<ellipse cx="154.0" cy="410.3" rx="1.94" ry="0.98" transform="rotate(20 154.0 410.3)" fill="#5a2a92"/>
<ellipse cx="164.1" cy="414.7" rx="4.3" ry="3.05" transform="rotate(-20 164.1 414.7)" fill="#bfb0b6" stroke="#a896a6" stroke-width="0.5"/>
<ellipse cx="164.1" cy="414.7" rx="2.41" ry="1.52" transform="rotate(-20 164.1 414.7)" fill="#9466ae"/>
<ellipse cx="164.1" cy="414.7" rx="1.94" ry="0.98" transform="rotate(-20 164.1 414.7)" fill="#5a2a92"/>
<ellipse cx="193.8" cy="408.2" rx="4.3" ry="3.05" transform="rotate(0 193.8 408.2)" fill="#bfb0b6" stroke="#a896a6" stroke-width="0.5"/>
<ellipse cx="193.8" cy="408.2" rx="2.41" ry="1.52" transform="rotate(0 193.8 408.2)" fill="#9466ae"/>
<ellipse cx="193.8" cy="408.2" rx="1.94" ry="0.98" transform="rotate(0 193.8 408.2)" fill="#5a2a92"/>
<ellipse cx="200.9" cy="408.2" rx="4.3" ry="3.05" transform="rotate(0 200.9 408.2)" fill="#bfb0b6" stroke="#a896a6" stroke-width="0.5"/>
<ellipse cx="200.9" cy="408.2" rx="2.41" ry="1.52" transform="rotate(0 200.9 408.2)" fill="#9466ae"/>
<ellipse cx="200.9" cy="408.2" rx="1.94" ry="0.98" transform="rotate(0 200.9 408.2)" fill="#5a2a92"/>
<ellipse cx="196.5" cy="415.9" rx="4.3" ry="3.05" transform="rotate(-40 196.5 415.9)" fill="#bfb0b6" stroke="#a896a6" stroke-width="0.5"/>
<ellipse cx="196.5" cy="415.9" rx="2.41" ry="1.52" transform="rotate(-40 196.5 415.9)" fill="#9466ae"/>
<ellipse cx="196.5" cy="415.9" rx="1.94" ry="0.98" transform="rotate(-40 196.5 415.9)" fill="#5a2a92"/>
<ellipse cx="208.8" cy="414.7" rx="4.3" ry="3.05" transform="rotate(30 208.8 414.7)" fill="#bfb0b6" stroke="#a896a6" stroke-width="0.5"/>
<ellipse cx="208.8" cy="414.7" rx="2.41" ry="1.52" transform="rotate(30 208.8 414.7)" fill="#9466ae"/>
<ellipse cx="208.8" cy="414.7" rx="1.94" ry="0.98" transform="rotate(30 208.8 414.7)" fill="#5a2a92"/>
<ellipse cx="137.5" cy="418.8" rx="4.3" ry="3.05" transform="rotate(30 137.5 418.8)" fill="#bfb0b6" stroke="#a896a6" stroke-width="0.5"/>
<ellipse cx="137.5" cy="418.8" rx="2.41" ry="1.52" transform="rotate(30 137.5 418.8)" fill="#9466ae"/>
<ellipse cx="137.5" cy="418.8" rx="1.94" ry="0.98" transform="rotate(30 137.5 418.8)" fill="#5a2a92"/>
<ellipse cx="145.7" cy="419.5" rx="4.3" ry="3.05" transform="rotate(10 145.7 419.5)" fill="#bfb0b6" stroke="#a896a6" stroke-width="0.5"/>
<ellipse cx="145.7" cy="419.5" rx="2.41" ry="1.52" transform="rotate(10 145.7 419.5)" fill="#9466ae"/>
<ellipse cx="145.7" cy="419.5" rx="1.94" ry="0.98" transform="rotate(10 145.7 419.5)" fill="#5a2a92"/>
<ellipse cx="168.1" cy="422.3" rx="4.3" ry="3.05" transform="rotate(-10 168.1 422.3)" fill="#bfb0b6" stroke="#a896a6" stroke-width="0.5"/>
<ellipse cx="168.1" cy="422.3" rx="2.41" ry="1.52" transform="rotate(-10 168.1 422.3)" fill="#9466ae"/>
<ellipse cx="168.1" cy="422.3" rx="1.94" ry="0.98" transform="rotate(-10 168.1 422.3)" fill="#5a2a92"/>
<ellipse cx="188.5" cy="423.6" rx="4.3" ry="3.05" transform="rotate(-10 188.5 423.6)" fill="#bfb0b6" stroke="#a896a6" stroke-width="0.5"/>
<ellipse cx="188.5" cy="423.6" rx="2.41" ry="1.52" transform="rotate(-10 188.5 423.6)" fill="#9466ae"/>
<ellipse cx="188.5" cy="423.6" rx="1.94" ry="0.98" transform="rotate(-10 188.5 423.6)" fill="#5a2a92"/>
<ellipse cx="199.1" cy="426.2" rx="4.3" ry="3.05" transform="rotate(-10 199.1 426.2)" fill="#bfb0b6" stroke="#a896a6" stroke-width="0.5"/>
<ellipse cx="199.1" cy="426.2" rx="2.41" ry="1.52" transform="rotate(-10 199.1 426.2)" fill="#9466ae"/>
<ellipse cx="199.1" cy="426.2" rx="1.94" ry="0.98" transform="rotate(-10 199.1 426.2)" fill="#5a2a92"/>
<ellipse cx="208.0" cy="426.2" rx="4.3" ry="3.05" transform="rotate(-30 208.0 426.2)" fill="#bfb0b6" stroke="#a896a6" stroke-width="0.5"/>
<ellipse cx="208.0" cy="426.2" rx="2.41" ry="1.52" transform="rotate(-30 208.0 426.2)" fill="#9466ae"/>
<ellipse cx="208.0" cy="426.2" rx="1.94" ry="0.98" transform="rotate(-30 208.0 426.2)" fill="#5a2a92"/>
<ellipse cx="139.8" cy="426.2" rx="4.3" ry="3.05" transform="rotate(40 139.8 426.2)" fill="#bfb0b6" stroke="#a896a6" stroke-width="0.5"/>
<ellipse cx="139.8" cy="426.2" rx="2.41" ry="1.52" transform="rotate(40 139.8 426.2)" fill="#9466ae"/>
<ellipse cx="139.8" cy="426.2" rx="1.94" ry="0.98" transform="rotate(40 139.8 426.2)" fill="#5a2a92"/>
<ellipse cx="130.1" cy="428.0" rx="4.3" ry="3.05" transform="rotate(10 130.1 428.0)" fill="#bfb0b6" stroke="#a896a6" stroke-width="0.5"/>
<ellipse cx="130.1" cy="428.0" rx="2.41" ry="1.52" transform="rotate(10 130.1 428.0)" fill="#9466ae"/>
<ellipse cx="130.1" cy="428.0" rx="1.94" ry="0.98" transform="rotate(10 130.1 428.0)" fill="#5a2a92"/>
<ellipse cx="134.0" cy="433.3" rx="4.3" ry="3.05" transform="rotate(-20 134.0 433.3)" fill="#bfb0b6" stroke="#a896a6" stroke-width="0.5"/>
<ellipse cx="134.0" cy="433.3" rx="2.41" ry="1.52" transform="rotate(-20 134.0 433.3)" fill="#9466ae"/>
<ellipse cx="134.0" cy="433.3" rx="1.94" ry="0.98" transform="rotate(-20 134.0 433.3)" fill="#5a2a92"/>
<ellipse cx="146.9" cy="433.6" rx="4.3" ry="3.05" transform="rotate(-10 146.9 433.6)" fill="#bfb0b6" stroke="#a896a6" stroke-width="0.5"/>
<ellipse cx="146.9" cy="433.6" rx="2.41" ry="1.52" transform="rotate(-10 146.9 433.6)" fill="#9466ae"/>
<ellipse cx="146.9" cy="433.6" rx="1.94" ry="0.98" transform="rotate(-10 146.9 433.6)" fill="#5a2a92"/>
<ellipse cx="154.9" cy="431.5" rx="4.3" ry="3.05" transform="rotate(40 154.9 431.5)" fill="#bfb0b6" stroke="#a896a6" stroke-width="0.5"/>
<ellipse cx="154.9" cy="431.5" rx="2.41" ry="1.52" transform="rotate(40 154.9 431.5)" fill="#9466ae"/>
<ellipse cx="154.9" cy="431.5" rx="1.94" ry="0.98" transform="rotate(40 154.9 431.5)" fill="#5a2a92"/>
<ellipse cx="158.4" cy="437.7" rx="4.3" ry="3.05" transform="rotate(20 158.4 437.7)" fill="#bfb0b6" stroke="#a896a6" stroke-width="0.5"/>
<ellipse cx="158.4" cy="437.7" rx="2.41" ry="1.52" transform="rotate(20 158.4 437.7)" fill="#9466ae"/>
<ellipse cx="158.4" cy="437.7" rx="1.94" ry="0.98" transform="rotate(20 158.4 437.7)" fill="#5a2a92"/>
<ellipse cx="176.1" cy="431.5" rx="4.3" ry="3.05" transform="rotate(10 176.1 431.5)" fill="#bfb0b6" stroke="#a896a6" stroke-width="0.5"/>
<ellipse cx="176.1" cy="431.5" rx="2.41" ry="1.52" transform="rotate(10 176.1 431.5)" fill="#9466ae"/>
<ellipse cx="176.1" cy="431.5" rx="1.94" ry="0.98" transform="rotate(10 176.1 431.5)" fill="#5a2a92"/>
<ellipse cx="187.6" cy="431.2" rx="4.3" ry="3.05" transform="rotate(20 187.6 431.2)" fill="#bfb0b6" stroke="#a896a6" stroke-width="0.5"/>
<ellipse cx="187.6" cy="431.2" rx="2.41" ry="1.52" transform="rotate(20 187.6 431.2)" fill="#9466ae"/>
<ellipse cx="187.6" cy="431.2" rx="1.94" ry="0.98" transform="rotate(20 187.6 431.2)" fill="#5a2a92"/>
<ellipse cx="195.6" cy="431.2" rx="4.3" ry="3.05" transform="rotate(10 195.6 431.2)" fill="#bfb0b6" stroke="#a896a6" stroke-width="0.5"/>
<ellipse cx="195.6" cy="431.2" rx="2.41" ry="1.52" transform="rotate(10 195.6 431.2)" fill="#9466ae"/>
<ellipse cx="195.6" cy="431.2" rx="1.94" ry="0.98" transform="rotate(10 195.6 431.2)" fill="#5a2a92"/>
<ellipse cx="204.4" cy="435.1" rx="4.3" ry="3.05" transform="rotate(-10 204.4 435.1)" fill="#bfb0b6" stroke="#a896a6" stroke-width="0.5"/>
<ellipse cx="204.4" cy="435.1" rx="2.41" ry="1.52" transform="rotate(-10 204.4 435.1)" fill="#9466ae"/>
<ellipse cx="204.4" cy="435.1" rx="1.94" ry="0.98" transform="rotate(-10 204.4 435.1)" fill="#5a2a92"/>
<ellipse cx="211.5" cy="435.9" rx="4.3" ry="3.05" transform="rotate(60 211.5 435.9)" fill="#bfb0b6" stroke="#a896a6" stroke-width="0.5"/>
<ellipse cx="211.5" cy="435.9" rx="2.41" ry="1.52" transform="rotate(60 211.5 435.9)" fill="#9466ae"/>
<ellipse cx="211.5" cy="435.9" rx="1.94" ry="0.98" transform="rotate(60 211.5 435.9)" fill="#5a2a92"/>
<ellipse cx="127.5" cy="441.2" rx="4.3" ry="3.05" transform="rotate(20 127.5 441.2)" fill="#bfb0b6" stroke="#a896a6" stroke-width="0.5"/>
<ellipse cx="127.5" cy="441.2" rx="2.41" ry="1.52" transform="rotate(20 127.5 441.2)" fill="#9466ae"/>
<ellipse cx="127.5" cy="441.2" rx="1.94" ry="0.98" transform="rotate(20 127.5 441.2)" fill="#5a2a92"/>
<ellipse cx="132.8" cy="443.0" rx="4.3" ry="3.05" transform="rotate(50 132.8 443.0)" fill="#bfb0b6" stroke="#a896a6" stroke-width="0.5"/>
<ellipse cx="132.8" cy="443.0" rx="2.41" ry="1.52" transform="rotate(50 132.8 443.0)" fill="#9466ae"/>
<ellipse cx="132.8" cy="443.0" rx="1.94" ry="0.98" transform="rotate(50 132.8 443.0)" fill="#5a2a92"/>
<ellipse cx="133.6" cy="447.4" rx="4.3" ry="3.05" transform="rotate(-10 133.6 447.4)" fill="#bfb0b6" stroke="#a896a6" stroke-width="0.5"/>
<ellipse cx="133.6" cy="447.4" rx="2.41" ry="1.52" transform="rotate(-10 133.6 447.4)" fill="#9466ae"/>
<ellipse cx="133.6" cy="447.4" rx="1.94" ry="0.98" transform="rotate(-10 133.6 447.4)" fill="#5a2a92"/>
<ellipse cx="126.6" cy="447.4" rx="4.3" ry="3.05" transform="rotate(60 126.6 447.4)" fill="#bfb0b6" stroke="#a896a6" stroke-width="0.5"/>
<ellipse cx="126.6" cy="447.4" rx="2.41" ry="1.52" transform="rotate(60 126.6 447.4)" fill="#9466ae"/>
<ellipse cx="126.6" cy="447.4" rx="1.94" ry="0.98" transform="rotate(60 126.6 447.4)" fill="#5a2a92"/>
<ellipse cx="140.7" cy="445.3" rx="4.3" ry="3.05" transform="rotate(10 140.7 445.3)" fill="#bfb0b6" stroke="#a896a6" stroke-width="0.5"/>
<ellipse cx="140.7" cy="445.3" rx="2.41" ry="1.52" transform="rotate(10 140.7 445.3)" fill="#9466ae"/>
<ellipse cx="140.7" cy="445.3" rx="1.94" ry="0.98" transform="rotate(10 140.7 445.3)" fill="#5a2a92"/>
<ellipse cx="147.8" cy="447.4" rx="3.96" ry="3.20" transform="rotate(0 147.8 447.4)" fill="#bfb0b6" stroke="#a896a6" stroke-width="0.5"/>
<ellipse cx="147.8" cy="447.4" rx="2.49" ry="2.07" transform="rotate(0 147.8 447.4)" fill="#7a46a6"/>
<ellipse cx="154.9" cy="444.3" rx="4.3" ry="3.05" transform="rotate(-10 154.9 444.3)" fill="#bfb0b6" stroke="#a896a6" stroke-width="0.5"/>
<ellipse cx="154.9" cy="444.3" rx="2.41" ry="1.52" transform="rotate(-10 154.9 444.3)" fill="#9466ae"/>
<ellipse cx="154.9" cy="444.3" rx="1.94" ry="0.98" transform="rotate(-10 154.9 444.3)" fill="#5a2a92"/>
<ellipse cx="177.9" cy="441.2" rx="4.3" ry="3.05" transform="rotate(-10 177.9 441.2)" fill="#bfb0b6" stroke="#a896a6" stroke-width="0.5"/>
<ellipse cx="177.9" cy="441.2" rx="2.41" ry="1.52" transform="rotate(-10 177.9 441.2)" fill="#9466ae"/>
<ellipse cx="177.9" cy="441.2" rx="1.94" ry="0.98" transform="rotate(-10 177.9 441.2)" fill="#5a2a92"/>
<ellipse cx="197.3" cy="443.9" rx="4.3" ry="3.05" transform="rotate(-50 197.3 443.9)" fill="#bfb0b6" stroke="#a896a6" stroke-width="0.5"/>
<ellipse cx="197.3" cy="443.9" rx="2.41" ry="1.52" transform="rotate(-50 197.3 443.9)" fill="#9466ae"/>
<ellipse cx="197.3" cy="443.9" rx="1.94" ry="0.98" transform="rotate(-50 197.3 443.9)" fill="#5a2a92"/>
<ellipse cx="206.2" cy="442.1" rx="4.3" ry="3.05" transform="rotate(0 206.2 442.1)" fill="#bfb0b6" stroke="#a896a6" stroke-width="0.5"/>
<ellipse cx="206.2" cy="442.1" rx="2.41" ry="1.52" transform="rotate(0 206.2 442.1)" fill="#9466ae"/>
<ellipse cx="206.2" cy="442.1" rx="1.94" ry="0.98" transform="rotate(0 206.2 442.1)" fill="#5a2a92"/>
<ellipse cx="206.2" cy="447.4" rx="4.3" ry="3.05" transform="rotate(20 206.2 447.4)" fill="#bfb0b6" stroke="#a896a6" stroke-width="0.5"/>
<ellipse cx="206.2" cy="447.4" rx="2.41" ry="1.52" transform="rotate(20 206.2 447.4)" fill="#9466ae"/>
<ellipse cx="206.2" cy="447.4" rx="1.94" ry="0.98" transform="rotate(20 206.2 447.4)" fill="#5a2a92"/>
<ellipse cx="210.6" cy="451.3" rx="4.3" ry="3.05" transform="rotate(-50 210.6 451.3)" fill="#bfb0b6" stroke="#a896a6" stroke-width="0.5"/>
<ellipse cx="210.6" cy="451.3" rx="2.41" ry="1.52" transform="rotate(-50 210.6 451.3)" fill="#9466ae"/>
<ellipse cx="210.6" cy="451.3" rx="1.94" ry="0.98" transform="rotate(-50 210.6 451.3)" fill="#5a2a92"/>
<ellipse cx="172.2" cy="451.3" rx="4.3" ry="3.05" transform="rotate(-20 172.2 451.3)" fill="#bfb0b6" stroke="#a896a6" stroke-width="0.5"/>
<ellipse cx="172.2" cy="451.3" rx="2.41" ry="1.52" transform="rotate(-20 172.2 451.3)" fill="#9466ae"/>
<ellipse cx="172.2" cy="451.3" rx="1.94" ry="0.98" transform="rotate(-20 172.2 451.3)" fill="#5a2a92"/>
<ellipse cx="184.1" cy="454.5" rx="4.3" ry="3.05" transform="rotate(30 184.1 454.5)" fill="#bfb0b6" stroke="#a896a6" stroke-width="0.5"/>
<ellipse cx="184.1" cy="454.5" rx="2.41" ry="1.52" transform="rotate(30 184.1 454.5)" fill="#9466ae"/>
<ellipse cx="184.1" cy="454.5" rx="1.94" ry="0.98" transform="rotate(30 184.1 454.5)" fill="#5a2a92"/>
<ellipse cx="204.1" cy="454.9" rx="4.3" ry="3.05" transform="rotate(20 204.1 454.9)" fill="#bfb0b6" stroke="#a896a6" stroke-width="0.5"/>
<ellipse cx="204.1" cy="454.9" rx="2.41" ry="1.52" transform="rotate(20 204.1 454.9)" fill="#9466ae"/>
<ellipse cx="204.1" cy="454.9" rx="1.94" ry="0.98" transform="rotate(20 204.1 454.9)" fill="#5a2a92"/>
<ellipse cx="125.7" cy="458.1" rx="4.3" ry="3.05" transform="rotate(-80 125.7 458.1)" fill="#bfb0b6" stroke="#a896a6" stroke-width="0.5"/>
<ellipse cx="125.7" cy="458.1" rx="2.41" ry="1.52" transform="rotate(-80 125.7 458.1)" fill="#9466ae"/>
<ellipse cx="125.7" cy="458.1" rx="1.94" ry="0.98" transform="rotate(-80 125.7 458.1)" fill="#5a2a92"/>
<ellipse cx="184.1" cy="461.6" rx="4.3" ry="3.05" transform="rotate(-50 184.1 461.6)" fill="#bfb0b6" stroke="#a896a6" stroke-width="0.5"/>
<ellipse cx="184.1" cy="461.6" rx="2.41" ry="1.52" transform="rotate(-50 184.1 461.6)" fill="#9466ae"/>
<ellipse cx="184.1" cy="461.6" rx="1.94" ry="0.98" transform="rotate(-50 184.1 461.6)" fill="#5a2a92"/>
<ellipse cx="145.1" cy="463.4" rx="4.3" ry="3.05" transform="rotate(-10 145.1 463.4)" fill="#bfb0b6" stroke="#a896a6" stroke-width="0.5"/>
<ellipse cx="145.1" cy="463.4" rx="2.41" ry="1.52" transform="rotate(-10 145.1 463.4)" fill="#9466ae"/>
<ellipse cx="145.1" cy="463.4" rx="1.94" ry="0.98" transform="rotate(-10 145.1 463.4)" fill="#5a2a92"/>
<ellipse cx="200.5" cy="467.8" rx="3.96" ry="3.20" transform="rotate(0 200.5 467.8)" fill="#bfb0b6" stroke="#a896a6" stroke-width="0.5"/>
<ellipse cx="200.5" cy="467.8" rx="2.49" ry="2.07" transform="rotate(0 200.5 467.8)" fill="#7a46a6"/>
<ellipse cx="161.1" cy="466.9" rx="4.3" ry="3.05" transform="rotate(-20 161.1 466.9)" fill="#bfb0b6" stroke="#a896a6" stroke-width="0.5"/>
<ellipse cx="161.1" cy="466.9" rx="2.41" ry="1.52" transform="rotate(-20 161.1 466.9)" fill="#9466ae"/>
<ellipse cx="161.1" cy="466.9" rx="1.94" ry="0.98" transform="rotate(-20 161.1 466.9)" fill="#5a2a92"/>
<ellipse cx="166.4" cy="466.5" rx="4.3" ry="3.05" transform="rotate(0 166.4 466.5)" fill="#bfb0b6" stroke="#a896a6" stroke-width="0.5"/>
<ellipse cx="166.4" cy="466.5" rx="2.41" ry="1.52" transform="rotate(0 166.4 466.5)" fill="#9466ae"/>
<ellipse cx="166.4" cy="466.5" rx="1.94" ry="0.98" transform="rotate(0 166.4 466.5)" fill="#5a2a92"/>
<ellipse cx="170.8" cy="467.3" rx="4.3" ry="3.05" transform="rotate(10 170.8 467.3)" fill="#bfb0b6" stroke="#a896a6" stroke-width="0.5"/>
<ellipse cx="170.8" cy="467.3" rx="2.41" ry="1.52" transform="rotate(10 170.8 467.3)" fill="#9466ae"/>
<ellipse cx="170.8" cy="467.3" rx="1.94" ry="0.98" transform="rotate(10 170.8 467.3)" fill="#5a2a92"/>
<ellipse cx="159.3" cy="470.4" rx="4.3" ry="3.05" transform="rotate(40 159.3 470.4)" fill="#bfb0b6" stroke="#a896a6" stroke-width="0.5"/>
<ellipse cx="159.3" cy="470.4" rx="2.41" ry="1.52" transform="rotate(40 159.3 470.4)" fill="#9466ae"/>
<ellipse cx="159.3" cy="470.4" rx="1.94" ry="0.98" transform="rotate(40 159.3 470.4)" fill="#5a2a92"/>
<ellipse cx="153.1" cy="472.2" rx="4.3" ry="3.05" transform="rotate(-30 153.1 472.2)" fill="#bfb0b6" stroke="#a896a6" stroke-width="0.5"/>
<ellipse cx="153.1" cy="472.2" rx="2.41" ry="1.52" transform="rotate(-30 153.1 472.2)" fill="#9466ae"/>
<ellipse cx="153.1" cy="472.2" rx="1.94" ry="0.98" transform="rotate(-30 153.1 472.2)" fill="#5a2a92"/>
<ellipse cx="140.7" cy="472.2" rx="4.3" ry="3.05" transform="rotate(50 140.7 472.2)" fill="#bfb0b6" stroke="#a896a6" stroke-width="0.5"/>
<ellipse cx="140.7" cy="472.2" rx="2.41" ry="1.52" transform="rotate(50 140.7 472.2)" fill="#9466ae"/>
<ellipse cx="140.7" cy="472.2" rx="1.94" ry="0.98" transform="rotate(50 140.7 472.2)" fill="#5a2a92"/>
<ellipse cx="134.5" cy="472.2" rx="4.3" ry="3.05" transform="rotate(-10 134.5 472.2)" fill="#bfb0b6" stroke="#a896a6" stroke-width="0.5"/>
<ellipse cx="134.5" cy="472.2" rx="2.41" ry="1.52" transform="rotate(-10 134.5 472.2)" fill="#9466ae"/>
<ellipse cx="134.5" cy="472.2" rx="1.94" ry="0.98" transform="rotate(-10 134.5 472.2)" fill="#5a2a92"/>
<ellipse cx="177.0" cy="471.9" rx="4.3" ry="3.05" transform="rotate(60 177.0 471.9)" fill="#bfb0b6" stroke="#a896a6" stroke-width="0.5"/>
<ellipse cx="177.0" cy="471.9" rx="2.41" ry="1.52" transform="rotate(60 177.0 471.9)" fill="#9466ae"/>
<ellipse cx="177.0" cy="471.9" rx="1.94" ry="0.98" transform="rotate(60 177.0 471.9)" fill="#5a2a92"/>
<ellipse cx="131.0" cy="477.2" rx="4.3" ry="3.05" transform="rotate(-20 131.0 477.2)" fill="#bfb0b6" stroke="#a896a6" stroke-width="0.5"/>
<ellipse cx="131.0" cy="477.2" rx="2.41" ry="1.52" transform="rotate(-20 131.0 477.2)" fill="#9466ae"/>
<ellipse cx="131.0" cy="477.2" rx="1.94" ry="0.98" transform="rotate(-20 131.0 477.2)" fill="#5a2a92"/>
<ellipse cx="146.9" cy="477.2" rx="4.3" ry="3.05" transform="rotate(-40 146.9 477.2)" fill="#bfb0b6" stroke="#a896a6" stroke-width="0.5"/>
<ellipse cx="146.9" cy="477.2" rx="2.41" ry="1.52" transform="rotate(-40 146.9 477.2)" fill="#9466ae"/>
<ellipse cx="146.9" cy="477.2" rx="1.94" ry="0.98" transform="rotate(-40 146.9 477.2)" fill="#5a2a92"/>
<ellipse cx="176.1" cy="477.5" rx="4.3" ry="3.05" transform="rotate(-30 176.1 477.5)" fill="#bfb0b6" stroke="#a896a6" stroke-width="0.5"/>
<ellipse cx="176.1" cy="477.5" rx="2.41" ry="1.52" transform="rotate(-30 176.1 477.5)" fill="#9466ae"/>
<ellipse cx="176.1" cy="477.5" rx="1.94" ry="0.98" transform="rotate(-30 176.1 477.5)" fill="#5a2a92"/>
<ellipse cx="183.2" cy="477.2" rx="4.3" ry="3.05" transform="rotate(10 183.2 477.2)" fill="#bfb0b6" stroke="#a896a6" stroke-width="0.5"/>
<ellipse cx="183.2" cy="477.2" rx="2.41" ry="1.52" transform="rotate(10 183.2 477.2)" fill="#9466ae"/>
<ellipse cx="183.2" cy="477.2" rx="1.94" ry="0.98" transform="rotate(10 183.2 477.2)" fill="#5a2a92"/>
<ellipse cx="192.9" cy="478.9" rx="4.3" ry="3.05" transform="rotate(10 192.9 478.9)" fill="#bfb0b6" stroke="#a896a6" stroke-width="0.5"/>
<ellipse cx="192.9" cy="478.9" rx="2.41" ry="1.52" transform="rotate(10 192.9 478.9)" fill="#9466ae"/>
<ellipse cx="192.9" cy="478.9" rx="1.94" ry="0.98" transform="rotate(10 192.9 478.9)" fill="#5a2a92"/>
<ellipse cx="206.2" cy="477.5" rx="4.3" ry="3.05" transform="rotate(-40 206.2 477.5)" fill="#bfb0b6" stroke="#a896a6" stroke-width="0.5"/>
<ellipse cx="206.2" cy="477.5" rx="2.41" ry="1.52" transform="rotate(-40 206.2 477.5)" fill="#9466ae"/>
<ellipse cx="206.2" cy="477.5" rx="1.94" ry="0.98" transform="rotate(-40 206.2 477.5)" fill="#5a2a92"/>
<ellipse cx="168.1" cy="481.9" rx="4.3" ry="3.05" transform="rotate(-20 168.1 481.9)" fill="#bfb0b6" stroke="#a896a6" stroke-width="0.5"/>
<ellipse cx="168.1" cy="481.9" rx="2.41" ry="1.52" transform="rotate(-20 168.1 481.9)" fill="#9466ae"/>
<ellipse cx="168.1" cy="481.9" rx="1.94" ry="0.98" transform="rotate(-20 168.1 481.9)" fill="#5a2a92"/>
<ellipse cx="200.0" cy="482.8" rx="4.3" ry="3.05" transform="rotate(-30 200.0 482.8)" fill="#bfb0b6" stroke="#a896a6" stroke-width="0.5"/>
<ellipse cx="200.0" cy="482.8" rx="2.41" ry="1.52" transform="rotate(-30 200.0 482.8)" fill="#9466ae"/>
<ellipse cx="200.0" cy="482.8" rx="1.94" ry="0.98" transform="rotate(-30 200.0 482.8)" fill="#5a2a92"/>
<ellipse cx="208.0" cy="484.6" rx="4.3" ry="3.05" transform="rotate(0 208.0 484.6)" fill="#bfb0b6" stroke="#a896a6" stroke-width="0.5"/>
<ellipse cx="208.0" cy="484.6" rx="2.41" ry="1.52" transform="rotate(0 208.0 484.6)" fill="#9466ae"/>
<ellipse cx="208.0" cy="484.6" rx="1.94" ry="0.98" transform="rotate(0 208.0 484.6)" fill="#5a2a92"/>
<ellipse cx="181.4" cy="486.7" rx="4.3" ry="3.05" transform="rotate(0 181.4 486.7)" fill="#bfb0b6" stroke="#a896a6" stroke-width="0.5"/>
<ellipse cx="181.4" cy="486.7" rx="2.41" ry="1.52" transform="rotate(0 181.4 486.7)" fill="#9466ae"/>
<ellipse cx="181.4" cy="486.7" rx="1.94" ry="0.98" transform="rotate(0 181.4 486.7)" fill="#5a2a92"/>
</g>
</g>
<rect x="287.5" y="336.3" width="34.0" height="44.19999999999999" fill="#3cb54a"/>
<rect x="287.5" y="380.5" width="34.0" height="81.5" fill="#0d5087"/>
<rect x="287.5" y="462" width="34.0" height="12.5" fill="#c8202f"/>
<rect x="341" y="336.3" width="34" height="46.69999999999999" fill="#3cb54a"/>
<rect x="341" y="383" width="34" height="76.5" fill="#0d5087"/>
<rect x="341" y="459.5" width="34" height="15.0" fill="#c8202f"/>
<rect x="394.5" y="336.3" width="34.0" height="39.69999999999999" fill="#3cb54a"/>
<rect x="394.5" y="376" width="34.0" height="87.5" fill="#0d5087"/>
<rect x="394.5" y="463.5" width="34.0" height="11.0" fill="#c8202f"/>
<line x1="269.3" y1="370" x2="433.5" y2="370" stroke="#cf2036" stroke-opacity="0.85" stroke-width="1.0" stroke-dasharray="6.5 3.7"/>
<line x1="269.3" y1="439.5" x2="433.5" y2="439.5" stroke="#cf2036" stroke-opacity="0.88" stroke-width="0.9" stroke-dasharray="6.5 3.7"/>
<path d="M268.8 335V474.9H447" fill="none" stroke="#231f20" stroke-width="1.2"/>
<line x1="265.6" y1="335.5" x2="269" y2="335.5" stroke="#231f20" stroke-width="0.9"/>
<text x="263.2" y="338.1" font-size="7.4" text-anchor="end">100</text>
<line x1="265.6" y1="370" x2="269" y2="370" stroke="#231f20" stroke-width="0.9"/>
<text x="263.2" y="372.6" font-size="7.4" text-anchor="end">75</text>
<line x1="265.6" y1="405" x2="269" y2="405" stroke="#231f20" stroke-width="0.9"/>
<text x="263.2" y="407.6" font-size="7.4" text-anchor="end">50</text>
<line x1="265.6" y1="439.5" x2="269" y2="439.5" stroke="#231f20" stroke-width="0.9"/>
<text x="263.2" y="442.1" font-size="7.4" text-anchor="end">25</text>
<line x1="265.6" y1="474.5" x2="269" y2="474.5" stroke="#231f20" stroke-width="0.9"/>
<text x="263.2" y="477.1" font-size="7.4" text-anchor="end">0</text>
<line x1="304.5" y1="474.5" x2="304.5" y2="477.9" stroke="#231f20" stroke-width="0.9"/>
<line x1="357.7" y1="474.5" x2="357.7" y2="477.9" stroke="#231f20" stroke-width="0.9"/>
<line x1="411.5" y1="474.5" x2="411.5" y2="477.9" stroke="#231f20" stroke-width="0.9"/>
<text x="291.4" y="333.4" font-size="7.3" textLength="26.3" lengthAdjust="spacing">n = 383</text>
<text x="344.59999999999997" y="333.4" font-size="7.3" textLength="26.3" lengthAdjust="spacing">n = 151</text>
<text x="398.2" y="333.4" font-size="7.3" textLength="26.3" lengthAdjust="spacing">n = 314</text>
<text x="304.5" y="360.65" font-size="7.4" text-anchor="middle" style="fill:#231f20">32%</text>
<text x="358" y="362.15" font-size="7.4" text-anchor="middle" style="fill:#231f20">34%</text>
<text x="411.5" y="359.15" font-size="7.4" text-anchor="middle" style="fill:#231f20">29%</text>
<text x="304.5" y="424.15" font-size="7.4" text-anchor="middle" style="fill:#fff">59%</text>
<text x="358" y="423.65" font-size="7.4" text-anchor="middle" style="fill:#fff">55%</text>
<text x="411.5" y="422.65" font-size="7.4" text-anchor="middle" style="fill:#fff">63%</text>
<text x="304.5" y="470.65" font-size="7.4" text-anchor="middle" style="fill:#fff">9%</text>
<text x="358" y="469.15" font-size="7.4" text-anchor="middle" style="fill:#fff">11%</text>
<text x="411.5" y="471.65" font-size="7.4" text-anchor="middle" style="fill:#fff">8%</text>
<text x="289.6" y="488.2" font-size="7.2" class="i" textLength="30.4" lengthAdjust="spacingAndGlyphs">runx1<tspan dy="-3.1" font-size="5.3">del8</tspan></text>
<text x="341.2" y="488.2" font-size="7.2" class="i" textLength="34.4" lengthAdjust="spacingAndGlyphs">runx1<tspan dy="-3.1" font-size="5.3">del25</tspan></text>
<text x="390" y="488.2" font-size="7.2" class="i" textLength="43.6" lengthAdjust="spacingAndGlyphs">runx1<tspan dy="-3.1" font-size="5.3">del(e3-8)</tspan></text>
<rect x="448.5" y="345.8" width="10.7" height="7" fill="#3cb54a"/>
<text x="462.2" y="352.2" font-size="8">WT</text>
<rect x="448.5" y="359.8" width="10.7" height="7" fill="#0d5087"/>
<text x="462.2" y="366.3" font-size="8">+/−</text>
<rect x="448.5" y="373.8" width="10.7" height="7" fill="#c8202f"/>
<text x="462.2" y="380.4" font-size="8">−/−</text>
<line x1="89.5" y1="512" x2="89.5" y2="627" stroke="#c4c6c8" stroke-width="0.7"/>
<line x1="129.5" y1="512" x2="129.5" y2="627" stroke="#c4c6c8" stroke-width="0.7"/>
<line x1="35.5" y1="613.75" x2="183.8" y2="613.75" stroke="#c4c6c8" stroke-width="0.7"/>
<path d="M109.5 622.7 L106.5 619.1 L102.5 615.8 L98.5 614.2 L93.5 613.8 L89.5 615.0 L87.0 617.0 L88.5 618.7 L95.5 620.4 L103.5 621.8Z" fill="#161616"/>
<path d="M109.5 622.7 L112.5 619.1 L116.5 615.8 L120.5 614.2 L125.5 613.8 L129.5 615.0 L132.0 617.0 L130.5 618.7 L123.5 620.4 L115.5 621.8Z" fill="#161616"/>
<path d="M137.2 604.1h.01M116.3 612.3h.01M80.6 611.4h.01M105.2 614.1h.01M104.0 613.2h.01M108.2 620.7h.01M99.8 613.5h.01M108.8 620.9h.01M102.1 614.9h.01M89.1 596.1h.01M123.2 609.6h.01M123.2 608.9h.01M136.0 603.7h.01M110.3 620.5h.01M103.2 611.1h.01M101.0 612.0h.01M85.5 612.2h.01M124.7 608.5h.01M92.4 607.5h.01M91.1 610.4h.01M106.3 614.6h.01M132.5 606.3h.01M113.2 617.1h.01M93.6 606.7h.01M98.4 611.5h.01M119.2 604.0h.01M97.6 610.2h.01M121.0 611.2h.01M140.1 613.2h.01M90.2 611.1h.01M99.8 612.2h.01M97.0 599.8h.01M72.0 613.4h.01M95.2 610.1h.01M93.6 610.8h.01M126.9 613.6h.01M84.3 610.6h.01M119.5 611.8h.01M82.5 613.7h.01M100.3 610.3h.01M100.4 613.1h.01M96.0 611.3h.01M74.7 609.4h.01M125.2 613.8h.01M122.7 611.5h.01M126.7 608.7h.01M126.9 612.8h.01M132.6 612.5h.01M92.2 602.2h.01M122.6 613.7h.01M80.7 610.5h.01M100.2 609.3h.01M79.8 609.7h.01M125.7 613.9h.01M130.2 601.0h.01M106.4 619.4h.01M137.0 614.0h.01M99.0 610.8h.01M111.8 619.8h.01M111.9 618.4h.01M93.0 607.7h.01M116.3 613.0h.01M139.6 610.6h.01M93.6 603.9h.01M123.4 613.7h.01M136.9 609.9h.01M117.0 611.0h.01M120.0 614.1h.01M119.5 605.7h.01M113.4 616.7h.01M87.9 612.1h.01M131.1 610.0h.01M88.3 612.1h.01M119.0 603.9h.01M96.5 612.2h.01M111.7 619.1h.01M127.6 612.0h.01M95.7 612.7h.01M94.4 613.2h.01M100.3 611.7h.01M101.5 602.8h.01M94.6 612.0h.01M115.3 617.1h.01M100.6 610.7h.01M120.0 612.4h.01M96.2 613.7h.01M104.8 616.3h.01M143.0 607.8h.01M123.1 611.5h.01M89.5 614.1h.01M118.2 613.5h.01M128.6 610.9h.01M111.8 617.8h.01M101.3 614.3h.01M98.2 612.1h.01M119.5 612.9h.01M114.4 614.8h.01M101.5 614.7h.01M103.0 609.4h.01M120.7 608.8h.01M98.8 613.0h.01M122.7 599.2h.01M117.0 615.3h.01M96.6 613.0h.01M130.3 613.6h.01M99.0 612.7h.01M116.1 610.1h.01M97.8 597.1h.01M82.5 611.0h.01M113.0 616.9h.01M113.9 612.7h.01M113.8 615.5h.01M99.4 611.4h.01M98.1 612.0h.01M106.9 617.5h.01M139.1 611.8h.01M122.1 613.7h.01M101.4 604.1h.01M118.2 611.8h.01M102.1 611.1h.01M102.4 613.7h.01M122.8 607.9h.01M101.4 614.2h.01M83.5 606.4h.01M95.4 601.0h.01M110.9 620.3h.01M111.5 618.0h.01M128.7 614.0h.01M98.4 608.0h.01M120.8 611.1h.01M116.1 616.4h.01M122.5 603.5h.01M117.1 614.4h.01M96.1 608.6h.01M126.1 613.8h.01M90.6 609.8h.01M116.1 615.1h.01M98.3 611.0h.01M109.0 621.4h.01M125.0 611.9h.01M97.2 611.2h.01M89.4 608.9h.01M151.0 608.8h.01M86.5 610.0h.01M131.3 610.3h.01M92.9 605.8h.01M115.2 616.7h.01M122.9 597.8h.01M99.4 613.0h.01M102.8 615.4h.01M101.1 611.1h.01M84.4 610.9h.01M90.3 605.7h.01M107.3 620.2h.01M125.6 613.5h.01M119.3 613.3h.01M136.3 610.8h.01M120.3 612.3h.01M101.6 611.2h.01M107.6 618.2h.01M78.0 614.1h.01M94.6 607.7h.01M93.7 611.3h.01M113.7 616.5h.01M119.5 612.8h.01M100.8 606.5h.01M100.4 610.4h.01M85.5 613.7h.01M107.5 618.3h.01M116.4 615.1h.01M97.4 613.6h.01M140.3 613.9h.01M128.0 613.9h.01M108.0 620.6h.01M101.3 612.7h.01M117.0 613.8h.01M121.4 609.4h.01M130.7 613.9h.01M127.3 608.1h.01M107.8 619.3h.01M115.5 612.6h.01M103.5 615.6h.01M100.4 611.7h.01M139.1 611.6h.01M102.4 612.2h.01M140.4 612.5h.01M104.1 616.7h.01M113.4 615.3h.01M126.4 608.1h.01M105.8 616.5h.01M102.1 613.9h.01M106.9 617.9h.01M99.4 600.7h.01M134.8 612.7h.01M106.9 615.8h.01M136.2 611.1h.01M67.9 597.5h.01M109.8 621.6h.01M104.9 616.5h.01M126.5 607.4h.01M119.4 613.2h.01M105.2 613.3h.01M116.2 614.8h.01M113.4 618.0h.01M114.1 617.4h.01M102.7 606.4h.01M111.6 617.8h.01M89.5 612.6h.01M147.6 611.0h.01M126.0 609.6h.01M119.4 612.8h.01M126.6 613.3h.01M138.7 613.5h.01M118.7 612.7h.01M141.6 612.0h.01M126.1 609.9h.01M112.1 617.8h.01M136.2 612.2h.01M72.9 613.2h.01M100.6 612.6h.01M113.6 615.3h.01M95.4 613.6h.01M99.6 603.9h.01M99.4 610.7h.01M119.2 599.5h.01M108.7 620.8h.01M129.9 613.3h.01M105.8 612.9h.01M123.2 607.3h.01M114.9 615.6h.01M134.7 613.8h.01M87.5 610.0h.01M121.4 612.4h.01M91.6 613.9h.01M126.0 611.0h.01M96.0 613.4h.01M134.6 602.1h.01M120.3 610.5h.01M123.5 605.4h.01M80.6 604.5h.01M110.7 620.5h.01M99.8 612.5h.01M113.9 611.9h.01M119.1 611.9h.01M96.5 597.3h.01M138.0 611.5h.01M145.4 610.6h.01M106.3 618.3h.01M129.1 608.1h.01M138.9 613.6h.01M90.8 603.1h.01M100.0 604.8h.01M93.0 612.5h.01M92.3 605.4h.01M84.1 613.6h.01M115.1 616.2h.01M91.5 605.4h.01M132.8 611.1h.01M123.6 612.0h.01M93.5 612.7h.01M93.5 613.2h.01M100.0 613.4h.01M131.2 611.7h.01M96.3 611.3h.01M86.3 613.8h.01M115.3 616.8h.01M99.3 613.5h.01M134.6 605.1h.01M113.2 617.0h.01M116.5 615.6h.01M96.2 612.1h.01M108.9 620.7h.01M107.1 619.5h.01M74.3 597.4h.01M114.0 618.0h.01M81.7 608.5h.01M86.7 613.1h.01M140.8 605.4h.01M114.6 614.8h.01M122.9 614.0h.01M123.7 612.2h.01M89.0 610.2h.01M74.1 611.9h.01M104.4 616.3h.01M123.4 612.5h.01M110.9 619.3h.01M121.7 611.5h.01M124.0 589.5h.01M86.4 603.7h.01M114.0 615.1h.01M140.0 605.1h.01M100.7 614.0h.01M78.0 610.1h.01M102.3 614.8h.01M116.0 613.3h.01M95.7 611.2h.01M110.9 620.4h.01M75.1 599.4h.01M122.7 612.3h.01M134.1 610.7h.01M129.6 614.1h.01M86.0 611.1h.01M114.4 615.5h.01M113.9 618.1h.01M94.1 613.3h.01M114.8 610.0h.01M124.1 610.3h.01M111.5 618.5h.01M113.1 616.5h.01M79.4 609.6h.01M91.5 612.2h.01M102.1 615.6h.01M114.1 613.2h.01M132.8 612.8h.01M96.0 613.2h.01M113.5 617.0h.01M105.9 618.7h.01M117.2 607.4h.01M100.7 613.6h.01M131.5 612.1h.01M104.5 614.5h.01M126.8 611.5h.01M132.6 613.0h.01M87.8 611.3h.01M117.5 614.8h.01M102.8 607.0h.01M113.1 617.8h.01M128.0 613.5h.01M91.8 613.3h.01M89.0 613.3h.01M94.0 604.1h.01M113.4 616.4h.01M80.3 608.4h.01M89.6 613.8h.01M91.8 610.2h.01M103.8 610.2h.01M115.4 616.1h.01M99.8 603.0h.01M101.9 612.5h.01M68.0 613.3h.01M102.8 605.5h.01M110.8 619.7h.01M126.5 610.8h.01M141.2 613.8h.01M119.8 612.3h.01M110.7 619.8h.01M94.5 608.0h.01M121.6 613.5h.01M129.1 613.9h.01M95.9 609.7h.01M122.1 600.5h.01M138.3 606.0h.01M113.5 613.3h.01M101.1 611.5h.01M98.8 614.1h.01M99.4 610.7h.01M122.3 611.5h.01M126.1 614.1h.01M120.7 613.4h.01M128.0 612.4h.01M115.4 612.9h.01M103.5 612.1h.01M128.5 608.6h.01M80.6 612.8h.01M105.6 615.6h.01M98.5 613.4h.01M86.1 605.4h.01M97.2 613.0h.01M124.4 611.4h.01M135.6 603.0h.01M101.9 613.9h.01M125.0 610.6h.01M127.8 609.4h.01M91.5 611.8h.01M84.8 612.0h.01M104.1 612.7h.01M125.9 613.0h.01M129.1 612.1h.01M137.9 602.4h.01M104.3 617.4h.01M138.5 604.0h.01M119.8 613.9h.01M88.4 607.3h.01M121.3 612.2h.01M104.0 612.5h.01M117.5 614.3h.01M107.9 619.9h.01M128.2 613.8h.01M113.5 618.7h.01M105.1 616.5h.01M124.5 614.0h.01M113.5 617.4h.01M103.1 608.1h.01M129.3 609.2h.01M103.2 614.5h.01M99.6 614.1h.01M101.1 614.9h.01M86.8 593.9h.01M100.9 612.5h.01M138.3 610.4h.01M95.4 608.6h.01M92.3 608.4h.01M100.0 610.8h.01M133.0 611.4h.01M123.4 611.7h.01M100.0 605.2h.01M96.7 612.2h.01M97.3 613.2h.01M95.3 603.4h.01M95.6 612.8h.01M114.6 612.6h.01M118.8 613.3h.01M117.1 612.0h.01M106.9 618.3h.01M88.5 614.0h.01M108.5 621.1h.01M95.2 612.7h.01M123.2 611.6h.01M118.1 612.5h.01M121.1 611.8h.01M104.1 614.7h.01M81.4 613.6h.01M124.3 609.8h.01M128.5 608.1h.01M86.5 611.8h.01M111.6 617.7h.01M128.0 613.6h.01M92.8 614.0h.01M136.9 613.0h.01M104.1 615.2h.01M92.8 613.7h.01M130.8 612.3h.01M114.1 615.6h.01M99.4 611.0h.01M123.1 608.7h.01M79.2 611.1h.01M137.6 613.4h.01M96.8 612.6h.01M113.9 616.0h.01M103.3 613.7h.01M116.3 614.2h.01M123.3 612.1h.01M96.7 604.2h.01M121.7 609.6h.01M98.8 613.4h.01M106.0 614.6h.01M93.9 611.5h.01M97.2 612.6h.01M124.2 613.9h.01M127.2 614.1h.01M116.2 609.3h.01M93.6 612.3h.01M80.1 606.2h.01M98.8 614.0h.01M113.6 618.4h.01M96.6 610.2h.01M125.2 609.8h.01M82.4 612.8h.01M90.0 610.0h.01M111.5 618.2h.01M143.5 613.4h.01M115.9 616.1h.01M93.9 613.0h.01M118.7 605.2h.01M120.1 612.8h.01M124.0 610.8h.01M103.1 616.1h.01M97.1 597.0h.01M115.9 615.9h.01M134.3 613.2h.01M141.9 605.4h.01M98.1 612.7h.01M101.4 614.9h.01M105.6 618.1h.01M117.0 615.5h.01M117.0 611.6h.01M130.3 613.3h.01M93.2 610.1h.01M85.3 605.9h.01M93.6 612.5h.01M93.3 612.4h.01M80.3 610.7h.01M119.8 613.1h.01M112.4 618.1h.01M102.9 616.0h.01M95.7 606.5h.01M85.0 611.5h.01M95.2 613.5h.01M138.1 604.2h.01M75.2 613.2h.01M111.7 620.0h.01M121.0 611.4h.01M104.6 614.7h.01M121.4 609.6h.01M92.4 611.9h.01M118.1 607.5h.01M131.7 610.2h.01M93.4 613.2h.01M96.8 605.1h.01M111.6 619.9h.01M124.8 612.3h.01M130.3 610.3h.01M120.0 599.5h.01M99.1 612.4h.01M92.2 613.2h.01M113.3 614.4h.01M115.7 609.9h.01M92.4 612.7h.01M114.6 612.5h.01M125.7 610.7h.01M94.1 605.2h.01M118.1 614.0h.01M91.4 606.6h.01M102.9 616.2h.01M108.3 619.3h.01M133.0 605.9h.01M117.2 611.6h.01M125.1 607.6h.01M88.4 613.1h.01M121.4 611.4h.01M90.3 611.5h.01M134.8 612.7h.01M131.9 611.6h.01M117.3 611.2h.01M97.0 603.2h.01M135.4 611.0h.01M113.5 618.2h.01M111.2 618.6h.01M118.5 613.1h.01M83.0 612.9h.01M116.1 614.1h.01M124.9 612.6h.01M114.8 611.3h.01M111.8 617.7h.01M94.7 605.5h.01M119.5 612.7h.01M100.8 610.8h.01M122.8 613.6h.01M128.8 613.1h.01M115.5 610.3h.01M123.4 610.9h.01M130.1 612.3h.01M134.1 613.9h.01M106.2 614.9h.01M103.1 616.5h.01M118.1 612.1h.01M124.0 614.0h.01M102.9 616.2h.01M94.1 605.0h.01M129.1 612.4h.01M103.4 616.8h.01M115.0 614.7h.01M98.3 608.0h.01M104.9 612.1h.01M98.9 607.5h.01M135.9 608.0h.01M115.1 612.2h.01M106.9 619.5h.01M94.8 609.5h.01M100.0 601.6h.01M118.3 611.9h.01M135.3 612.9h.01M87.3 605.7h.01M95.3 608.2h.01M106.8 616.4h.01M99.8 614.1h.01M83.8 611.9h.01M121.1 608.7h.01M85.1 601.3h.01M112.8 616.5h.01M124.5 611.7h.01M124.7 610.5h.01M103.0 613.0h.01M145.2 609.7h.01M118.1 613.9h.01M96.9 611.9h.01M124.8 607.1h.01M92.1 610.7h.01M123.4 612.0h.01M89.9 613.5h.01M121.8 613.3h.01M100.5 614.2h.01M127.1 604.4h.01M121.0 610.8h.01M116.4 611.1h.01M126.3 610.4h.01M81.5 613.7h.01M116.2 614.1h.01M115.9 615.2h.01M118.2 614.8h.01M122.3 611.2h.01M122.0 613.6h.01M133.9 614.1h.01M78.2 613.5h.01M135.8 613.5h.01M98.9 612.8h.01M74.4 614.1h.01M92.8 613.2h.01M106.8 619.4h.01M122.2 611.0h.01M109.0 621.3h.01M108.5 620.1h.01M76.3 613.7h.01M125.2 611.4h.01M103.0 615.8h.01M80.4 610.7h.01M88.8 613.0h.01M135.4 610.2h.01M100.1 611.7h.01M99.2 610.2h.01M96.8 607.3h.01M120.1 611.3h.01M100.4 613.8h.01M96.0 611.6h.01M86.2 610.7h.01M107.8 619.7h.01M125.0 606.4h.01M123.2 613.6h.01M112.3 616.0h.01M125.4 611.3h.01M117.1 615.3h.01M100.5 614.4h.01M117.0 612.3h.01M112.3 615.5h.01M115.9 607.9h.01M86.6 609.6h.01M115.4 614.7h.01M129.9 611.1h.01M88.6 613.1h.01M134.3 605.8h.01M114.1 614.4h.01M106.3 619.1h.01M81.5 608.4h.01M126.4 593.8h.01M94.5 603.4h.01M101.6 610.8h.01M118.0 610.9h.01M93.6 594.4h.01M94.2 607.5h.01M91.7 612.3h.01M118.6 602.9h.01M115.7 614.4h.01M115.8 614.9h.01M104.2 614.4h.01M111.7 619.5h.01M98.8 606.9h.01M140.5 613.2h.01M79.2 612.4h.01M92.9 612.9h.01M134.3 606.7h.01M88.3 598.1h.01M102.7 614.6h.01M92.5 613.3h.01M126.0 612.0h.01M135.5 612.3h.01M96.7 610.2h.01M127.0 612.4h.01M95.7 613.0h.01M94.0 609.9h.01M113.3 616.2h.01M113.2 614.0h.01M100.3 611.1h.01M122.6 612.0h.01M86.7 611.3h.01M96.2 606.9h.01M92.8 608.8h.01M121.3 612.5h.01M122.0 611.4h.01M119.8 614.0h.01M89.4 605.3h.01M116.6 610.4h.01M84.4 605.2h.01M96.8 613.4h.01M119.5 612.4h.01M120.4 613.5h.01M113.5 618.5h.01M117.9 613.1h.01M114.5 614.6h.01M96.0 613.0h.01M103.3 607.1h.01M145.4 610.2h.01M113.5 612.3h.01M105.9 616.0h.01M107.7 620.0h.01M105.3 617.6h.01M117.9 611.3h.01M122.1 612.1h.01M98.7 612.6h.01M114.9 611.4h.01M123.1 609.1h.01M91.6 605.9h.01M112.1 615.7h.01M113.3 614.3h.01M104.3 615.0h.01M101.9 613.7h.01M80.7 610.2h.01M127.3 610.4h.01M95.0 613.1h.01M90.3 612.3h.01M119.7 613.8h.01M81.1 609.6h.01M124.4 613.5h.01M116.2 613.6h.01M90.6 608.6h.01M80.2 607.1h.01M132.1 609.2h.01M101.5 614.6h.01M134.0 610.0h.01M99.7 612.0h.01M105.8 617.1h.01M93.4 612.7h.01M100.8 611.5h.01M129.4 609.3h.01M121.3 610.7h.01M79.1 613.9h.01M114.7 612.5h.01M103.7 615.2h.01M125.7 613.9h.01M81.8 613.9h.01M128.1 609.0h.01M118.0 606.0h.01M113.4 616.8h.01M122.6 610.4h.01M105.6 614.2h.01M101.1 609.5h.01M121.6 601.2h.01M112.2 617.9h.01M90.1 610.2h.01M130.4 605.9h.01M128.3 605.6h.01M131.8 613.3h.01M110.7 619.8h.01M114.9 615.6h.01M103.6 615.9h.01M94.4 613.1h.01M112.2 615.9h.01M99.2 607.9h.01M137.9 610.9h.01M84.5 613.9h.01M96.9 611.7h.01M99.1 613.1h.01M129.5 612.8h.01M105.5 612.2h.01M104.5 615.5h.01M95.8 610.4h.01M97.7 613.0h.01M89.3 614.1h.01M125.2 613.1h.01M118.9 613.8h.01M124.8 603.1h.01M99.2 604.0h.01M148.4 611.3h.01M94.3 606.2h.01M77.7 612.7h.01M111.6 619.0h.01M121.2 610.9h.01M93.7 612.6h.01M118.7 613.0h.01M136.0 610.3h.01M96.3 612.9h.01M98.0 609.3h.01M83.1 596.3h.01M122.8 613.6h.01M121.4 614.1h.01M122.4 611.2h.01M131.5 605.3h.01M124.3 606.0h.01M94.7 609.8h.01M97.2 612.1h.01M113.2 617.2h.01M96.8 609.0h.01M118.4 608.6h.01M130.8 607.0h.01M115.8 615.9h.01M98.1 612.6h.01M97.9 614.1h.01M130.7 613.2h.01M97.1 611.9h.01M126.5 610.0h.01M101.1 611.7h.01M87.6 613.4h.01M132.0 608.9h.01M98.0 621.3h.01M118.9 621.6h.01M112.0 621.6h.01M108.8 621.9h.01M122.4 620.0h.01M87.9 615.3h.01M108.5 622.0h.01M85.9 615.6h.01M103.9 620.4h.01M110.1 622.0h.01M128.5 617.8h.01M94.7 620.6h.01M118.7 621.0h.01M130.6 619.4h.01M91.8 618.0h.01M83.9 620.9h.01M120.6 620.0h.01M88.8 619.0h.01M87.7 615.9h.01M96.5 618.5h.01M117.0 619.7h.01M109.7 621.9h.01M95.9 619.2h.01M82.1 620.7h.01M124.3 616.9h.01M98.4 621.3h.01M92.2 616.1h.01M113.4 620.8h.01M106.5 621.7h.01M84.7 617.9h.01M92.2 618.0h.01M134.7 617.5h.01M127.1 616.8h.01M87.7 620.8h.01M95.7 618.9h.01M96.0 620.9h.01M110.2 621.9h.01M132.0 615.4h.01M111.5 621.4h.01M83.9 619.8h.01M135.8 614.8h.01M87.1 620.5h.01M106.5 621.0h.01M120.5 620.2h.01M117.5 621.2h.01M98.0 619.2h.01M113.3 621.8h.01M115.3 620.1h.01M83.4 612.9h.01M131.9 613.8h.01M103.2 621.0h.01M105.6 621.5h.01M107.6 621.3h.01M128.8 615.4h.01M102.7 619.7h.01M136.3 612.8h.01M110.5 621.8h.01M123.7 621.4h.01M125.5 617.4h.01M85.1 613.4h.01M113.1 621.6h.01M88.6 619.4h.01M99.4 620.7h.01M109.2 621.9h.01M97.7 619.1h.01M139.1 620.4h.01M98.3 619.6h.01M99.4 620.5h.01M113.3 620.9h.01M94.1 618.3h.01M137.0 617.8h.01M138.1 619.2h.01M115.4 621.6h.01M129.6 616.4h.01M103.4 620.5h.01M104.4 621.3h.01M100.6 619.1h.01M132.9 620.4h.01M127.0 616.3h.01M80.8 619.0h.01M89.9 616.7h.01M108.1 621.8h.01M111.8 621.8h.01M107.4 621.7h.01M101.2 619.6h.01M83.7 615.1h.01M91.2 616.9h.01M135.5 618.5h.01M119.1 619.0h.01M102.2 621.5h.01M97.2 620.7h.01M83.5 612.9h.01M88.8 617.4h.01M131.2 615.7h.01M103.2 620.5h.01M114.3 621.4h.01M91.6 619.5h.01M126.4 617.3h.01M88.1 617.8h.01M95.1 617.9h.01M80.6 612.6h.01M81.7 616.6h.01M91.6 616.4h.01M115.0 620.8h.01M127.1 615.6h.01M90.7 618.2h.01M92.9 615.9h.01M89.9 617.6h.01M114.1 620.6h.01M138.2 612.9h.01M111.0 621.5h.01M80.5 617.1h.01M123.1 620.9h.01M94.2 621.3h.01M82.4 612.6h.01M125.4 620.3h.01M84.5 614.0h.01M87.9 617.7h.01M136.9 616.9h.01M129.8 614.8h.01M100.3 620.0h.01M103.2 621.6h.01M91.9 616.6h.01M114.5 621.7h.01M103.7 620.7h.01M87.3 615.2h.01M93.9 618.9h.01M129.1 615.4h.01M90.9 620.6h.01M90.4 619.2h.01M86.1 614.1h.01M122.9 617.8h.01M128.8 617.8h.01M112.2 621.6h.01M86.0 620.0h.01M94.1 617.1h.01M96.9 620.5h.01M94.2 617.8h.01M100.2 620.4h.01M99.1 619.5h.01M119.7 621.0h.01M85.0 616.4h.01M88.7 615.4h.01M126.8 618.9h.01M91.3 618.0h.01M112.8 621.6h.01M111.5 621.3h.01M111.2 621.5h.01M135.5 619.6h.01M98.1 617.9h.01M82.3 612.8h.01M85.3 616.0h.01M136.0 612.9h.01M110.5 621.7h.01M96.6 618.2h.01M103.8 620.1h.01M93.7 621.1h.01M119.5 620.9h.01M87.4 615.8h.01M115.8 620.1h.01M124.5 620.6h.01M95.7 619.3h.01M138.0 617.7h.01M99.7 618.8h.01M138.8 616.7h.01M100.8 619.6h.01M107.1 621.4h.01M125.7 619.6h.01M121.3 617.7h.01M84.2 614.1h.01M98.0 620.5h.01M105.6 621.3h.01M101.6 621.2h.01M109.2 621.9h.01M86.8 619.7h.01M123.7 616.8h.01M93.0 619.5h.01M110.8 621.7h.01M121.9 620.1h.01M89.1 616.4h.01M118.2 619.6h.01M124.2 616.9h.01M89.5 617.9h.01M114.8 621.3h.01M112.9 621.1h.01M137.5 620.6h.01M128.4 617.3h.01M103.5 621.7h.01M120.6 618.3h.01M104.0 620.2h.01M93.0 617.3h.01M93.6 618.3h.01M91.3 621.2h.01M107.3 621.8h.01M109.8 621.9h.01M81.6 620.6h.01M80.6 618.0h.01M99.0 621.4h.01M104.4 620.9h.01M99.5 619.5h.01M126.7 614.6h.01M74.0 580.5h.01M77.1 606.4h.01M96.5 609.9h.01M120.4 606.9h.01M172.1 593.8h.01M80.4 601.9h.01M123.6 608.8h.01M115.4 616.0h.01M135.0 609.6h.01M102.5 615.2h.01M88.5 607.2h.01M157.2 581.6h.01M119.2 609.1h.01M81.6 597.4h.01M101.1 609.0h.01M74.7 572.8h.01M126.8 614.7h.01M100.5 614.6h.01M93.9 613.3h.01M146.7 607.7h.01M61.6 590.4h.01M84.2 610.9h.01M124.6 594.9h.01M142.9 592.7h.01M81.8 586.7h.01M61.5 601.4h.01M107.4 621.0h.01M128.3 611.1h.01M92.1 609.3h.01M65.8 596.9h.01M80.0 599.4h.01M95.9 613.3h.01M98.2 616.9h.01M120.7 617.4h.01M136.6 606.3h.01M75.8 581.8h.01M147.2 597.6h.01M91.3 609.7h.01M98.8 599.7h.01M134.4 575.9h.01M53.3 552.0h.01M75.1 607.6h.01M89.5 612.4h.01M133.5 581.5h.01M133.9 590.5h.01M87.6 606.2h.01M125.9 605.5h.01M99.0 611.5h.01M142.9 592.1h.01M102.3 608.0h.01M133.1 608.6h.01M85.1 611.4h.01M126.6 607.3h.01M77.3 609.7h.01M71.6 603.5h.01M90.7 611.7h.01M86.4 606.4h.01M127.0 614.3h.01M111.6 620.2h.01M116.1 617.7h.01M125.6 614.3h.01M137.1 587.8h.01M132.5 610.9h.01M118.4 605.4h.01M155.0 588.3h.01M97.4 609.5h.01M127.5 599.3h.01M82.8 609.7h.01M164.1 599.8h.01M103.4 614.1h.01M112.7 618.8h.01M140.8 597.8h.01M104.6 613.9h.01M89.6 602.3h.01M66.4 597.2h.01M102.7 611.1h.01M156.0 601.0h.01M148.8 607.1h.01M128.0 604.7h.01M98.6 598.8h.01M76.3 594.2h.01M104.4 618.9h.01M123.1 594.9h.01M122.1 607.0h.01M75.2 592.0h.01M121.7 607.8h.01M89.5 597.1h.01M84.1 609.7h.01M85.3 590.0h.01M102.9 613.8h.01M106.9 620.7h.01M78.9 609.6h.01M93.6 605.4h.01M86.3 595.6h.01M65.4 587.6h.01M82.4 603.7h.01M93.8 602.5h.01M111.2 620.7h.01M117.3 610.3h.01M81.9 603.7h.01M126.3 614.6h.01M126.7 603.5h.01M123.7 601.5h.01M96.5 606.8h.01M97.2 604.0h.01M77.6 605.0h.01M100.2 612.2h.01M72.4 605.9h.01M67.3 597.0h.01M120.9 617.3h.01M120.7 610.2h.01M127.4 591.3h.01M98.0 608.2h.01M120.4 614.9h.01M99.6 617.5h.01M61.4 601.3h.01M159.8 585.2h.01M136.9 605.1h.01M137.3 610.8h.01M90.1 602.0h.01M115.3 612.0h.01M77.2 609.0h.01M97.9 615.9h.01M121.8 608.2h.01M143.6 604.7h.01M123.0 610.8h.01M79.6 609.6h.01M155.9 604.6h.01M112.1 618.0h.01M126.9 602.2h.01M78.5 606.7h.01M159.3 595.6h.01M124.7 611.4h.01M137.5 600.6h.01M91.3 603.0h.01M140.8 604.5h.01M92.8 608.7h.01M83.4 595.7h.01M128.4 613.6h.01M54.2 585.9h.01M57.2 543.4h.01M54.5 597.2h.01M80.3 544.4h.01M59.9 539.2h.01M52.5 588.6h.01M63.5 603.6h.01M82.8 588.7h.01M64.1 603.3h.01M69.9 560.9h.01M60.3 567.2h.01M91.5 581.5h.01M73.9 537.9h.01M62.2 539.1h.01M57.4 561.3h.01M55.9 558.8h.01M87.5 518.0h.01M61.5 536.2h.01M50.5 617.9h.01M142.5 545.3h.01M155.5 594.0h.01M172.5 598.9h.01M159.5 610.5h.01M138.5 579.1h.01" stroke="#161616" stroke-width="0.65" stroke-linecap="round" fill="none" opacity="0.75"/>
<rect x="35.5" y="512" width="148.3" height="115" fill="none" stroke="#3a3a3c" stroke-width="1.15"/>
<line x1="32.5" y1="622.0" x2="35.5" y2="622.0" stroke="#231f20" stroke-width="0.8"/>
<text x="29" y="624.6" font-size="7.2" text-anchor="end">0</text>
<line x1="32.5" y1="605.5" x2="35.5" y2="605.5" stroke="#231f20" stroke-width="0.8"/>
<text x="29" y="608.1" font-size="7.2" text-anchor="end">2</text>
<line x1="32.5" y1="589.0" x2="35.5" y2="589.0" stroke="#231f20" stroke-width="0.8"/>
<text x="29" y="591.6" font-size="7.2" text-anchor="end">4</text>
<line x1="32.5" y1="572.5" x2="35.5" y2="572.5" stroke="#231f20" stroke-width="0.8"/>
<text x="29" y="575.1" font-size="7.2" text-anchor="end">6</text>
<line x1="32.5" y1="556.0" x2="35.5" y2="556.0" stroke="#231f20" stroke-width="0.8"/>
<text x="29" y="558.6" font-size="7.2" text-anchor="end">8</text>
<line x1="32.5" y1="539.5" x2="35.5" y2="539.5" stroke="#231f20" stroke-width="0.8"/>
<text x="29" y="542.1" font-size="7.2" text-anchor="end">10</text>
<line x1="32.5" y1="523.0" x2="35.5" y2="523.0" stroke="#231f20" stroke-width="0.8"/>
<text x="29" y="525.6" font-size="7.2" text-anchor="end">12</text>
<line x1="49.5" y1="627" x2="49.5" y2="629.8" stroke="#231f20" stroke-width="0.8"/>
<text x="48.3" y="638.6" font-size="7.5" text-anchor="middle">−6</text>
<line x1="69.5" y1="627" x2="69.5" y2="629.8" stroke="#231f20" stroke-width="0.8"/>
<text x="68.3" y="638.6" font-size="7.5" text-anchor="middle">−4</text>
<line x1="89.5" y1="627" x2="89.5" y2="629.8" stroke="#231f20" stroke-width="0.8"/>
<text x="88.3" y="638.6" font-size="7.5" text-anchor="middle">−2</text>
<line x1="109.5" y1="627" x2="109.5" y2="629.8" stroke="#231f20" stroke-width="0.8"/>
<text x="109.5" y="638.6" font-size="7.5" text-anchor="middle">0</text>
<line x1="129.5" y1="627" x2="129.5" y2="629.8" stroke="#231f20" stroke-width="0.8"/>
<text x="129.5" y="638.6" font-size="7.5" text-anchor="middle">2</text>
<line x1="149.5" y1="627" x2="149.5" y2="629.8" stroke="#231f20" stroke-width="0.8"/>
<text x="149.5" y="638.6" font-size="7.5" text-anchor="middle">4</text>
<line x1="169.5" y1="627" x2="169.5" y2="629.8" stroke="#231f20" stroke-width="0.8"/>
<text x="169.5" y="638.6" font-size="7.5" text-anchor="middle">6</text>
<text transform="translate(16.5 569.4) rotate(-90)" x="-19.5" y="0" font-size="8.8" textLength="39" lengthAdjust="spacingAndGlyphs" stroke="#231f20" stroke-width="0.18">−log10 (padj)</text>
<text x="96.55" y="652" font-size="8.8" textLength="26.5" lengthAdjust="spacingAndGlyphs" stroke="#231f20" stroke-width="0.18">log2 (FC)</text>
<text x="52" y="545.5" font-size="7.5">itga2b</text>
<circle cx="75" cy="543.7" r="0.85" fill="#e3172a"/>
<text x="73.5" y="565.0" font-size="7.5">mpl</text>
<circle cx="85" cy="567.2" r="0.85" fill="#e3172a"/>
<text x="64" y="571.5" font-size="7.5">apln</text>
<circle cx="79" cy="571.7" r="0.85" fill="#e3172a"/>
<text x="55" y="577.5" font-size="7.5">mpx</text>
<circle cx="70" cy="575.7" r="0.85" fill="#e3172a"/>
<text x="61.5" y="585.0" font-size="7.5">thbs1b</text>
<circle cx="85" cy="579.7" r="0.85" fill="#e3172a"/>
<text x="67" y="610.5" font-size="7.5">itgb3a(...)</text>
<circle cx="89.5" cy="608.7" r="0.85" fill="#e3172a"/>
<text x="149.4" y="557.7" font-size="7.5">gata2b</text>
<circle cx="147.7" cy="555.4000000000001" r="0.85" fill="#e3172a"/>
<line x1="240.88" y1="520" x2="240.88" y2="598" stroke="#c3c5d0" stroke-width="0.8"/>
<line x1="266.26" y1="520" x2="266.26" y2="598" stroke="#c3c5d0" stroke-width="0.8"/>
<line x1="291.64" y1="520" x2="291.64" y2="598" stroke="#c3c5d0" stroke-width="0.8"/>
<rect x="215.5" y="524.20" width="97.71" height="5" fill="#b5651d"/>
<rect x="215.5" y="530.75" width="81.60" height="5" fill="#b96a20"/>
<rect x="215.5" y="537.30" width="50.76" height="5" fill="#f6891f"/>
<rect x="215.5" y="543.85" width="50.76" height="5" fill="#f6891f"/>
<rect x="215.5" y="550.40" width="35.53" height="5" fill="#f9b416"/>
<rect x="215.5" y="556.95" width="34.01" height="5" fill="#f9b416"/>
<rect x="215.5" y="563.50" width="31.60" height="5" fill="#f9b416"/>
<rect x="215.5" y="570.05" width="30.08" height="5" fill="#f9b416"/>
<rect x="215.5" y="576.60" width="29.57" height="5" fill="#f9b416"/>
<rect x="215.5" y="583.15" width="28.55" height="5" fill="#f9b416"/>
<rect x="215.5" y="589.70" width="27.54" height="5" fill="#f9b416"/>
<rect x="215.5" y="520" width="102.5" height="78" fill="none" stroke="#2c2c2e" stroke-width="0.9"/>
<path d="M215.7 520V598.4H318" fill="none" stroke="#1a1a1a" stroke-width="1.2"/>
<line x1="215.5" y1="598" x2="215.5" y2="601.2" stroke="#231f20" stroke-width="0.9"/>
<text x="215.5" y="610.4" font-size="7.2" text-anchor="middle">0</text>
<line x1="228.19" y1="598" x2="228.19" y2="601.2" stroke="#231f20" stroke-width="0.9"/>
<text x="228.19" y="610.4" font-size="7.2" text-anchor="middle">1</text>
<line x1="240.88" y1="598" x2="240.88" y2="601.2" stroke="#231f20" stroke-width="0.9"/>
<text x="240.88" y="610.4" font-size="7.2" text-anchor="middle">2</text>
<line x1="253.57" y1="598" x2="253.57" y2="601.2" stroke="#231f20" stroke-width="0.9"/>
<text x="253.57" y="610.4" font-size="7.2" text-anchor="middle">3</text>
<line x1="266.26" y1="598" x2="266.26" y2="601.2" stroke="#231f20" stroke-width="0.9"/>
<text x="266.26" y="610.4" font-size="7.2" text-anchor="middle">4</text>
<line x1="278.95" y1="598" x2="278.95" y2="601.2" stroke="#231f20" stroke-width="0.9"/>
<text x="278.95" y="610.4" font-size="7.2" text-anchor="middle">5</text>
<line x1="291.64" y1="598" x2="291.64" y2="601.2" stroke="#231f20" stroke-width="0.9"/>
<text x="291.64" y="610.4" font-size="7.2" text-anchor="middle">6</text>
<line x1="304.33" y1="598" x2="304.33" y2="601.2" stroke="#231f20" stroke-width="0.9"/>
<text x="304.33" y="610.4" font-size="7.2" text-anchor="middle">7</text>
<line x1="317.02" y1="598" x2="317.02" y2="601.2" stroke="#231f20" stroke-width="0.9"/>
<text x="317.02" y="610.4" font-size="7.2" text-anchor="middle">8</text>
<text x="251.8" y="622.6" font-size="8.6" textLength="30.4" lengthAdjust="spacingAndGlyphs" stroke="#231f20" stroke-width="0.18">−log10 (P)</text>
<text x="321.5" y="528.7" font-size="7.0">GO:0002757: immune response-activating signal transduction</text>
<text x="321.5" y="535.33" font-size="7.0">GO:0030097: hemopoiesis</text>
<text x="321.5" y="541.96" font-size="7.0">GO:0007596: blood coagulation</text>
<text x="321.5" y="548.59" font-size="7.0">GO:0006954: inflammatory response</text>
<text x="321.5" y="555.22" font-size="7.0">GO:0060216: definitive hemopoiesis</text>
<text x="321.5" y="561.85" font-size="7.0">GO:0007492: endoderm development</text>
<text x="321.5" y="568.48" font-size="7.0">GO:0060218: hematopoietic stem cell differentiation</text>
<text x="321.5" y="575.11" font-size="7.0">dre04060: Cytokine-cytokine receptor interaction</text>
<text x="321.5" y="581.74" font-size="7.0">GO:0001944: vasculature development</text>
<text x="321.5" y="588.37" font-size="7.0">dre04520: Adherens junction</text>
<text x="321.5" y="595.0" font-size="7.0">R-DRE-373076: Class A/1 (Rhodopsin-like receptors)</text>
<rect x="0.5" y="0.5" width="519" height="660" fill="none" stroke="#000" stroke-width="1.2"/>
</svg></body></html>
